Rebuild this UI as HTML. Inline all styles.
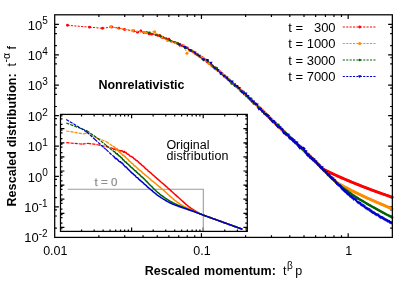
<!DOCTYPE html>
<html><head><meta charset="utf-8"><title>Rescaled distribution</title>
<style>html,body{margin:0;padding:0;background:#fff;}body{width:415px;height:291px;overflow:hidden;font-family:"Liberation Sans",sans-serif;}svg{display:block;will-change:transform;}</style></head>
<body>
<svg width="415" height="291" viewBox="0 0 415 291">
<rect x="0" y="0" width="415" height="291" fill="#ffffff"/>
<path d="M98.87 237.4v-2.2M98.87 14.8v2.2M124.71 237.4v-2.2M124.71 14.8v2.2M143.05 237.4v-2.2M143.05 14.8v2.2M157.27 237.4v-2.2M157.27 14.8v2.2M168.89 237.4v-2.2M168.89 14.8v2.2M178.71 237.4v-2.2M178.71 14.8v2.2M187.22 237.4v-2.2M187.22 14.8v2.2M194.73 237.4v-2.2M194.73 14.8v2.2M201.44 237.4v-4.2M201.44 14.8v4.2M245.61 237.4v-2.2M245.61 14.8v2.2M271.45 237.4v-2.2M271.45 14.8v2.2M289.79 237.4v-2.2M289.79 14.8v2.2M304.01 237.4v-2.2M304.01 14.8v2.2M315.63 237.4v-2.2M315.63 14.8v2.2M325.45 237.4v-2.2M325.45 14.8v2.2M333.96 237.4v-2.2M333.96 14.8v2.2M341.47 237.4v-2.2M341.47 14.8v2.2M348.18 237.4v-4.2M348.18 14.8v4.2M54.7 24.4h4.2M392.35 24.4h-4.2M54.7 54.81h4.2M392.35 54.81h-4.2M54.7 45.66h2.2M392.35 45.66h-2.2M54.7 33.55h2.2M392.35 33.55h-2.2M54.7 27.35h2.2M392.35 27.35h-2.2M54.7 85.22h4.2M392.35 85.22h-4.2M54.7 76.07h2.2M392.35 76.07h-2.2M54.7 63.96h2.2M392.35 63.96h-2.2M54.7 57.76h2.2M392.35 57.76h-2.2M54.7 115.63h4.2M392.35 115.63h-4.2M54.7 106.48h2.2M392.35 106.48h-2.2M54.7 94.37h2.2M392.35 94.37h-2.2M54.7 88.17h2.2M392.35 88.17h-2.2M54.7 146.04h4.2M392.35 146.04h-4.2M54.7 136.89h2.2M392.35 136.89h-2.2M54.7 124.78h2.2M392.35 124.78h-2.2M54.7 118.58h2.2M392.35 118.58h-2.2M54.7 176.45h4.2M392.35 176.45h-4.2M54.7 167.3h2.2M392.35 167.3h-2.2M54.7 155.19h2.2M392.35 155.19h-2.2M54.7 148.99h2.2M392.35 148.99h-2.2M54.7 206.86h4.2M392.35 206.86h-4.2M54.7 197.71h2.2M392.35 197.71h-2.2M54.7 185.6h2.2M392.35 185.6h-2.2M54.7 179.4h2.2M392.35 179.4h-2.2M54.7 228.12h2.2M392.35 228.12h-2.2M54.7 216.01h2.2M392.35 216.01h-2.2M54.7 209.81h2.2M392.35 209.81h-2.2" stroke="#000" stroke-width="1.2" fill="none"/>
<g><path d="M67.5 25.3L89.59 27.15M89.59 27.15L102.51 28.32M102.51 28.32L111.67 26.94M111.67 26.94L118.78 28.17M118.78 28.17L124.59 29.44M124.59 29.44L133.76 30.96M133.76 30.96L137.51 32.14M137.51 32.14L140.87 30.95M140.87 30.95L143.91 32.62M143.91 32.62L146.68 32.46M146.68 32.46L149.23 33.88M149.23 33.88L151.59 34.16M151.59 34.16L155.85 34.83M155.85 34.83L157.78 35.42M157.78 35.42L159.6 35.5M159.6 35.5L161.32 37M161.32 37L162.96 37.43M162.96 37.43L165.99 38.7M165.99 38.7L168.77 39.13M168.77 39.13L171.32 41.37M171.32 41.37L174.8 42.33M174.8 42.33L177.93 43.59M177.93 43.59L179.86 45.28M179.86 45.28L181.69 45.53M181.69 45.53L183.41 46.01M183.41 46.01L185.04 47.19M185.04 47.19L187.35 47.95M187.35 47.95L189.5 50.08M189.5 50.08L191.51 50.89M191.51 50.89L193.4 51.96M193.4 51.96L195.76 53.89M195.76 53.89L197.43 54.39M197.43 54.39L200.02 56.63M200.02 56.63L201.95 57.38M201.95 57.38L203.77 58.88M203.77 58.88L205.5 60M205.5 60L207.13 61.74M207.13 61.74L209.06 63.38M209.06 63.38L210.88 64.58M210.88 64.58L212.94 66.5M212.94 66.5L214.56 67.68M214.56 67.68L216.4 69.31M216.4 69.31L218.13 70.56M218.13 70.56L220.05 72.02M220.05 72.02L222.11 73.73M222.11 73.73L224.04 75.64M224.04 75.64L225.86 77.4M225.86 77.4L227.58 78.61M227.58 78.61L229.22 79.91M229.22 79.91L230.96 81.66M230.96 81.66L232.61 82.91M232.61 82.91L234.52 84.58M234.52 84.58L236.33 86.23M236.33 86.23L238.03 87.78M238.03 87.78L239.65 89.29M239.65 89.29L241.33 90.79M241.33 90.79L243.18 92.67M243.18 92.67L244.81 94.13M244.81 94.13L246.47 95.76M246.47 95.76L248.17 97.21M248.17 97.21L249.77 98.6M249.77 98.6L251.4 100.23M251.4 100.23L253.05 101.87M253.05 101.87L254.7 103.29M254.7 103.29L256.44 104.91M256.44 104.91L258.09 106.47M258.09 106.47L258.99 107.33M258.99 107.33L259.89 108.23M259.89 108.23L260.79 109.06M260.79 109.06L261.69 110.06M261.69 110.06L262.59 110.85M262.59 110.85L263.49 111.75M263.49 111.75L264.39 112.7M264.39 112.7L265.29 113.61M265.29 113.61L266.19 114.46M266.19 114.46L267.09 115.4M267.09 115.4L267.99 116.32M267.99 116.32L268.89 117.18M268.89 117.18L269.79 118.01M269.79 118.01L270.69 118.99M270.69 118.99L271.59 119.88M271.59 119.88L272.49 120.74M272.49 120.74L273.39 121.57M273.39 121.57L274.29 122.47M274.29 122.47L275.19 123.33M275.19 123.33L276.09 124.2M276.09 124.2L276.99 125.12M276.99 125.12L277.89 125.99M277.89 125.99L278.79 126.82M278.79 126.82L279.69 127.67M279.69 127.67L280.59 128.53M280.59 128.53L281.49 129.37M281.49 129.37L282.39 130.21M282.39 130.21L283.29 131.04M283.29 131.04L284.19 131.89M284.19 131.89L285.09 132.78M285.09 132.78L285.99 133.58M285.99 133.58L286.89 134.38M286.89 134.38L287.79 135.21M287.79 135.21L288.69 136.03M288.69 136.03L289.59 136.89M289.59 136.89L290.49 137.73M290.49 137.73L291.39 138.54M291.39 138.54L292.29 139.43M292.29 139.43L293.19 140.25M293.19 140.25L294.09 141.14M294.09 141.14L294.99 141.97M294.99 141.97L295.89 142.85M295.89 142.85L296.79 143.67M296.79 143.67L297.69 144.53M297.69 144.53L298.59 145.4M298.59 145.4L299.49 146.27M299.49 146.27L300.39 147.12M300.39 147.12L301.29 147.95M301.29 147.95L302.19 148.84M302.19 148.84L303.09 149.7M303.09 149.7L303.99 150.56M303.99 150.56L304.89 151.42M304.89 151.42L305.79 152.32M305.79 152.32L306.69 153.16M306.69 153.16L307.59 154.02M307.59 154.02L308.49 154.92M308.49 154.92L309.39 155.78M309.39 155.78L310.29 156.66M310.29 156.66L311.19 157.54M311.19 157.54L312.09 158.42M312.09 158.42L312.99 159.3M312.99 159.3L313.89 160.19M313.89 160.19L314.79 161.07M314.79 161.07L315.69 161.95M315.69 161.95L316.59 162.84M316.59 162.84L317.49 163.74M317.49 163.74L318.39 164.65M318.39 164.65L319.29 165.54M319.29 165.54L320.19 166.45M320.19 166.45L321.09 167.38M321.09 167.38L321.99 168.28M321.99 168.28L322.89 168.9M322.89 168.9L323.79 169.41M323.79 169.41L324.69 169.89M324.69 169.89L325.59 170.38M325.59 170.38L326.49 170.84M326.49 170.84L327.39 171.3M327.39 171.3L328.29 171.75M328.29 171.75L329.19 172.2M329.19 172.2L330.09 172.64M330.09 172.64L330.99 173.07M330.99 173.07L331.89 173.49M331.89 173.49L332.79 173.9M332.79 173.9L333.69 174.31M333.69 174.31L334.59 174.71M334.59 174.71L335.49 175.12M335.49 175.12L336.39 175.53M336.39 175.53L337.29 175.94M337.29 175.94L338.19 176.34M338.19 176.34L339.09 176.73M339.09 176.73L339.99 177.14M339.99 177.14L340.89 177.54M340.89 177.54L341.79 177.94M341.79 177.94L342.69 178.32M342.69 178.32L343.59 178.72M343.59 178.72L344.49 179.12M344.49 179.12L345.39 179.49M345.39 179.49L346.29 179.89M346.29 179.89L347.19 180.27M347.19 180.27L348.09 180.65M348.09 180.65L348.99 181.03M348.99 181.03L349.89 181.4M349.89 181.4L350.79 181.78M350.79 181.78L351.69 182.15M351.69 182.15L352.59 182.52M352.59 182.52L353.49 182.89M353.49 182.89L354.39 183.26M354.39 183.26L355.29 183.62M355.29 183.62L356.19 183.98M356.19 183.98L357.09 184.35M357.09 184.35L357.99 184.7M357.99 184.7L358.89 185.06M358.89 185.06L359.79 185.42M359.79 185.42L360.69 185.77M360.69 185.77L361.59 186.13M361.59 186.13L362.49 186.48M362.49 186.48L363.39 186.83M363.39 186.83L364.29 187.18M364.29 187.18L365.19 187.53M365.19 187.53L366.09 187.87M366.09 187.87L366.99 188.22M366.99 188.22L367.89 188.57M367.89 188.57L368.79 188.91M368.79 188.91L369.69 189.25M369.69 189.25L370.59 189.59M370.59 189.59L371.49 189.93M371.49 189.93L372.39 190.26M372.39 190.26L373.29 190.59M373.29 190.59L374.19 190.93M374.19 190.93L375.09 191.25M375.09 191.25L375.99 191.59M375.99 191.59L376.89 191.91M376.89 191.91L377.79 192.24M377.79 192.24L378.69 192.56M378.69 192.56L379.59 192.89M379.59 192.89L380.49 193.21M380.49 193.21L381.39 193.53M381.39 193.53L382.29 193.85M382.29 193.85L383.19 194.17M383.19 194.17L384.09 194.48M384.09 194.48L384.99 194.8M384.99 194.8L385.89 195.11M385.89 195.11L386.79 195.42M386.79 195.42L387.69 195.73M387.69 195.73L388.59 196.04M388.59 196.04L389.49 196.35M389.49 196.35L390.39 196.66M390.39 196.66L391.29 196.96M391.29 196.96L392.19 197.26" stroke="#ff0000" stroke-width="1" stroke-dasharray="2.1 1.3" fill="none"/><circle cx="67.5" cy="25.3" r="1.45" fill="#ff0000"/><circle cx="89.59" cy="27.15" r="1.45" fill="#ff0000"/><circle cx="102.51" cy="28.32" r="1.45" fill="#ff0000"/><circle cx="111.67" cy="26.94" r="1.45" fill="#ff0000"/><circle cx="118.78" cy="28.17" r="1.45" fill="#ff0000"/><circle cx="124.59" cy="29.44" r="1.45" fill="#ff0000"/><circle cx="133.76" cy="30.96" r="1.45" fill="#ff0000"/><circle cx="137.51" cy="32.14" r="1.45" fill="#ff0000"/><circle cx="140.87" cy="30.95" r="1.45" fill="#ff0000"/><circle cx="143.91" cy="32.62" r="1.45" fill="#ff0000"/><circle cx="146.68" cy="32.46" r="1.45" fill="#ff0000"/><circle cx="149.23" cy="33.88" r="1.45" fill="#ff0000"/><circle cx="151.59" cy="34.16" r="1.45" fill="#ff0000"/><circle cx="155.85" cy="34.83" r="1.45" fill="#ff0000"/><circle cx="157.78" cy="35.42" r="1.45" fill="#ff0000"/><circle cx="159.6" cy="35.5" r="1.45" fill="#ff0000"/><circle cx="161.32" cy="37" r="1.45" fill="#ff0000"/><circle cx="162.96" cy="37.43" r="1.45" fill="#ff0000"/><circle cx="165.99" cy="38.7" r="1.45" fill="#ff0000"/><circle cx="168.77" cy="39.13" r="1.45" fill="#ff0000"/><circle cx="171.32" cy="41.37" r="1.45" fill="#ff0000"/><circle cx="174.8" cy="42.33" r="1.45" fill="#ff0000"/><circle cx="177.93" cy="43.59" r="1.45" fill="#ff0000"/><circle cx="179.86" cy="45.28" r="1.45" fill="#ff0000"/><circle cx="181.69" cy="45.53" r="1.45" fill="#ff0000"/><circle cx="183.41" cy="46.01" r="1.45" fill="#ff0000"/><circle cx="185.04" cy="47.19" r="1.45" fill="#ff0000"/><circle cx="187.35" cy="47.95" r="1.45" fill="#ff0000"/><circle cx="189.5" cy="50.08" r="1.45" fill="#ff0000"/><circle cx="191.51" cy="50.89" r="1.45" fill="#ff0000"/><circle cx="193.4" cy="51.96" r="1.45" fill="#ff0000"/><circle cx="195.76" cy="53.89" r="1.45" fill="#ff0000"/><circle cx="197.43" cy="54.39" r="1.45" fill="#ff0000"/><circle cx="200.02" cy="56.63" r="1.45" fill="#ff0000"/><circle cx="201.95" cy="57.38" r="1.45" fill="#ff0000"/><circle cx="203.77" cy="58.88" r="1.45" fill="#ff0000"/><circle cx="205.5" cy="60" r="1.45" fill="#ff0000"/><circle cx="207.13" cy="61.74" r="1.45" fill="#ff0000"/><circle cx="209.06" cy="63.38" r="1.45" fill="#ff0000"/><circle cx="210.88" cy="64.58" r="1.45" fill="#ff0000"/><circle cx="212.94" cy="66.5" r="1.45" fill="#ff0000"/><circle cx="214.56" cy="67.68" r="1.45" fill="#ff0000"/><circle cx="216.4" cy="69.31" r="1.45" fill="#ff0000"/><circle cx="218.13" cy="70.56" r="1.45" fill="#ff0000"/><circle cx="220.05" cy="72.02" r="1.45" fill="#ff0000"/><circle cx="222.11" cy="73.73" r="1.45" fill="#ff0000"/><circle cx="224.04" cy="75.64" r="1.45" fill="#ff0000"/><circle cx="225.86" cy="77.4" r="1.45" fill="#ff0000"/><circle cx="227.58" cy="78.61" r="1.45" fill="#ff0000"/><circle cx="229.22" cy="79.91" r="1.45" fill="#ff0000"/><circle cx="230.96" cy="81.66" r="1.45" fill="#ff0000"/><circle cx="232.61" cy="82.91" r="1.45" fill="#ff0000"/><circle cx="234.52" cy="84.58" r="1.45" fill="#ff0000"/><circle cx="236.33" cy="86.23" r="1.45" fill="#ff0000"/><circle cx="238.03" cy="87.78" r="1.45" fill="#ff0000"/><circle cx="239.65" cy="89.29" r="1.45" fill="#ff0000"/><circle cx="241.33" cy="90.79" r="1.45" fill="#ff0000"/><circle cx="243.18" cy="92.67" r="1.45" fill="#ff0000"/><circle cx="244.81" cy="94.13" r="1.45" fill="#ff0000"/><circle cx="246.47" cy="95.76" r="1.45" fill="#ff0000"/><circle cx="248.17" cy="97.21" r="1.45" fill="#ff0000"/><circle cx="249.77" cy="98.6" r="1.45" fill="#ff0000"/><circle cx="251.4" cy="100.23" r="1.45" fill="#ff0000"/><circle cx="253.05" cy="101.87" r="1.45" fill="#ff0000"/><circle cx="254.7" cy="103.29" r="1.45" fill="#ff0000"/><circle cx="256.44" cy="104.91" r="1.45" fill="#ff0000"/><circle cx="258.09" cy="106.47" r="1.45" fill="#ff0000"/><circle cx="258.99" cy="107.33" r="1.45" fill="#ff0000"/><circle cx="259.89" cy="108.23" r="1.45" fill="#ff0000"/><circle cx="260.79" cy="109.06" r="1.45" fill="#ff0000"/><circle cx="261.69" cy="110.06" r="1.45" fill="#ff0000"/><circle cx="262.59" cy="110.85" r="1.45" fill="#ff0000"/><circle cx="263.49" cy="111.75" r="1.45" fill="#ff0000"/><circle cx="264.39" cy="112.7" r="1.45" fill="#ff0000"/><circle cx="265.29" cy="113.61" r="1.45" fill="#ff0000"/><circle cx="266.19" cy="114.46" r="1.45" fill="#ff0000"/><circle cx="267.09" cy="115.4" r="1.45" fill="#ff0000"/><circle cx="267.99" cy="116.32" r="1.45" fill="#ff0000"/><circle cx="268.89" cy="117.18" r="1.45" fill="#ff0000"/><circle cx="269.79" cy="118.01" r="1.45" fill="#ff0000"/><circle cx="270.69" cy="118.99" r="1.45" fill="#ff0000"/><circle cx="271.59" cy="119.88" r="1.45" fill="#ff0000"/><circle cx="272.49" cy="120.74" r="1.45" fill="#ff0000"/><circle cx="273.39" cy="121.57" r="1.45" fill="#ff0000"/><circle cx="274.29" cy="122.47" r="1.45" fill="#ff0000"/><circle cx="275.19" cy="123.33" r="1.45" fill="#ff0000"/><circle cx="276.09" cy="124.2" r="1.45" fill="#ff0000"/><circle cx="276.99" cy="125.12" r="1.45" fill="#ff0000"/><circle cx="277.89" cy="125.99" r="1.45" fill="#ff0000"/><circle cx="278.79" cy="126.82" r="1.45" fill="#ff0000"/><circle cx="279.69" cy="127.67" r="1.45" fill="#ff0000"/><circle cx="280.59" cy="128.53" r="1.45" fill="#ff0000"/><circle cx="281.49" cy="129.37" r="1.45" fill="#ff0000"/><circle cx="282.39" cy="130.21" r="1.45" fill="#ff0000"/><circle cx="283.29" cy="131.04" r="1.45" fill="#ff0000"/><circle cx="284.19" cy="131.89" r="1.45" fill="#ff0000"/><circle cx="285.09" cy="132.78" r="1.45" fill="#ff0000"/><circle cx="285.99" cy="133.58" r="1.45" fill="#ff0000"/><circle cx="286.89" cy="134.38" r="1.45" fill="#ff0000"/><circle cx="287.79" cy="135.21" r="1.45" fill="#ff0000"/><circle cx="288.69" cy="136.03" r="1.45" fill="#ff0000"/><circle cx="289.59" cy="136.89" r="1.45" fill="#ff0000"/><circle cx="290.49" cy="137.73" r="1.45" fill="#ff0000"/><circle cx="291.39" cy="138.54" r="1.45" fill="#ff0000"/><circle cx="292.29" cy="139.43" r="1.45" fill="#ff0000"/><circle cx="293.19" cy="140.25" r="1.45" fill="#ff0000"/><circle cx="294.09" cy="141.14" r="1.45" fill="#ff0000"/><circle cx="294.99" cy="141.97" r="1.45" fill="#ff0000"/><circle cx="295.89" cy="142.85" r="1.45" fill="#ff0000"/><circle cx="296.79" cy="143.67" r="1.45" fill="#ff0000"/><circle cx="297.69" cy="144.53" r="1.45" fill="#ff0000"/><circle cx="298.59" cy="145.4" r="1.45" fill="#ff0000"/><circle cx="299.49" cy="146.27" r="1.45" fill="#ff0000"/><circle cx="300.39" cy="147.12" r="1.45" fill="#ff0000"/><circle cx="301.29" cy="147.95" r="1.45" fill="#ff0000"/><circle cx="302.19" cy="148.84" r="1.45" fill="#ff0000"/><circle cx="303.09" cy="149.7" r="1.45" fill="#ff0000"/><circle cx="303.99" cy="150.56" r="1.45" fill="#ff0000"/><circle cx="304.89" cy="151.42" r="1.45" fill="#ff0000"/><circle cx="305.79" cy="152.32" r="1.45" fill="#ff0000"/><circle cx="306.69" cy="153.16" r="1.45" fill="#ff0000"/><circle cx="307.59" cy="154.02" r="1.45" fill="#ff0000"/><circle cx="308.49" cy="154.92" r="1.45" fill="#ff0000"/><circle cx="309.39" cy="155.78" r="1.45" fill="#ff0000"/><circle cx="310.29" cy="156.66" r="1.45" fill="#ff0000"/><circle cx="311.19" cy="157.54" r="1.45" fill="#ff0000"/><circle cx="312.09" cy="158.42" r="1.45" fill="#ff0000"/><circle cx="312.99" cy="159.3" r="1.45" fill="#ff0000"/><circle cx="313.89" cy="160.19" r="1.45" fill="#ff0000"/><circle cx="314.79" cy="161.07" r="1.45" fill="#ff0000"/><circle cx="315.69" cy="161.95" r="1.45" fill="#ff0000"/><circle cx="316.59" cy="162.84" r="1.45" fill="#ff0000"/><circle cx="317.49" cy="163.74" r="1.45" fill="#ff0000"/><circle cx="318.39" cy="164.65" r="1.45" fill="#ff0000"/><circle cx="319.29" cy="165.54" r="1.45" fill="#ff0000"/><circle cx="320.19" cy="166.45" r="1.45" fill="#ff0000"/><circle cx="321.09" cy="167.38" r="1.45" fill="#ff0000"/><circle cx="321.99" cy="168.28" r="1.45" fill="#ff0000"/><circle cx="322.89" cy="168.9" r="1.45" fill="#ff0000"/><circle cx="323.79" cy="169.41" r="1.45" fill="#ff0000"/><circle cx="324.69" cy="169.89" r="1.45" fill="#ff0000"/><circle cx="325.59" cy="170.38" r="1.45" fill="#ff0000"/><circle cx="326.49" cy="170.84" r="1.45" fill="#ff0000"/><circle cx="327.39" cy="171.3" r="1.45" fill="#ff0000"/><circle cx="328.29" cy="171.75" r="1.45" fill="#ff0000"/><circle cx="329.19" cy="172.2" r="1.45" fill="#ff0000"/><circle cx="330.09" cy="172.64" r="1.45" fill="#ff0000"/><circle cx="330.99" cy="173.07" r="1.45" fill="#ff0000"/><circle cx="331.89" cy="173.49" r="1.45" fill="#ff0000"/><circle cx="332.79" cy="173.9" r="1.45" fill="#ff0000"/><circle cx="333.69" cy="174.31" r="1.45" fill="#ff0000"/><circle cx="334.59" cy="174.71" r="1.45" fill="#ff0000"/><circle cx="335.49" cy="175.12" r="1.45" fill="#ff0000"/><circle cx="336.39" cy="175.53" r="1.45" fill="#ff0000"/><circle cx="337.29" cy="175.94" r="1.45" fill="#ff0000"/><circle cx="338.19" cy="176.34" r="1.45" fill="#ff0000"/><circle cx="339.09" cy="176.73" r="1.45" fill="#ff0000"/><circle cx="339.99" cy="177.14" r="1.45" fill="#ff0000"/><circle cx="340.89" cy="177.54" r="1.45" fill="#ff0000"/><circle cx="341.79" cy="177.94" r="1.45" fill="#ff0000"/><circle cx="342.69" cy="178.32" r="1.45" fill="#ff0000"/><circle cx="343.59" cy="178.72" r="1.45" fill="#ff0000"/><circle cx="344.49" cy="179.12" r="1.45" fill="#ff0000"/><circle cx="345.39" cy="179.49" r="1.45" fill="#ff0000"/><circle cx="346.29" cy="179.89" r="1.45" fill="#ff0000"/><circle cx="347.19" cy="180.27" r="1.45" fill="#ff0000"/><circle cx="348.09" cy="180.65" r="1.45" fill="#ff0000"/><circle cx="348.99" cy="181.03" r="1.45" fill="#ff0000"/><circle cx="349.89" cy="181.4" r="1.45" fill="#ff0000"/><circle cx="350.79" cy="181.78" r="1.45" fill="#ff0000"/><circle cx="351.69" cy="182.15" r="1.45" fill="#ff0000"/><circle cx="352.59" cy="182.52" r="1.45" fill="#ff0000"/><circle cx="353.49" cy="182.89" r="1.45" fill="#ff0000"/><circle cx="354.39" cy="183.26" r="1.45" fill="#ff0000"/><circle cx="355.29" cy="183.62" r="1.45" fill="#ff0000"/><circle cx="356.19" cy="183.98" r="1.45" fill="#ff0000"/><circle cx="357.09" cy="184.35" r="1.45" fill="#ff0000"/><circle cx="357.99" cy="184.7" r="1.45" fill="#ff0000"/><circle cx="358.89" cy="185.06" r="1.45" fill="#ff0000"/><circle cx="359.79" cy="185.42" r="1.45" fill="#ff0000"/><circle cx="360.69" cy="185.77" r="1.45" fill="#ff0000"/><circle cx="361.59" cy="186.13" r="1.45" fill="#ff0000"/><circle cx="362.49" cy="186.48" r="1.45" fill="#ff0000"/><circle cx="363.39" cy="186.83" r="1.45" fill="#ff0000"/><circle cx="364.29" cy="187.18" r="1.45" fill="#ff0000"/><circle cx="365.19" cy="187.53" r="1.45" fill="#ff0000"/><circle cx="366.09" cy="187.87" r="1.45" fill="#ff0000"/><circle cx="366.99" cy="188.22" r="1.45" fill="#ff0000"/><circle cx="367.89" cy="188.57" r="1.45" fill="#ff0000"/><circle cx="368.79" cy="188.91" r="1.45" fill="#ff0000"/><circle cx="369.69" cy="189.25" r="1.45" fill="#ff0000"/><circle cx="370.59" cy="189.59" r="1.45" fill="#ff0000"/><circle cx="371.49" cy="189.93" r="1.45" fill="#ff0000"/><circle cx="372.39" cy="190.26" r="1.45" fill="#ff0000"/><circle cx="373.29" cy="190.59" r="1.45" fill="#ff0000"/><circle cx="374.19" cy="190.93" r="1.45" fill="#ff0000"/><circle cx="375.09" cy="191.25" r="1.45" fill="#ff0000"/><circle cx="375.99" cy="191.59" r="1.45" fill="#ff0000"/><circle cx="376.89" cy="191.91" r="1.45" fill="#ff0000"/><circle cx="377.79" cy="192.24" r="1.45" fill="#ff0000"/><circle cx="378.69" cy="192.56" r="1.45" fill="#ff0000"/><circle cx="379.59" cy="192.89" r="1.45" fill="#ff0000"/><circle cx="380.49" cy="193.21" r="1.45" fill="#ff0000"/><circle cx="381.39" cy="193.53" r="1.45" fill="#ff0000"/><circle cx="382.29" cy="193.85" r="1.45" fill="#ff0000"/><circle cx="383.19" cy="194.17" r="1.45" fill="#ff0000"/><circle cx="384.09" cy="194.48" r="1.45" fill="#ff0000"/><circle cx="384.99" cy="194.8" r="1.45" fill="#ff0000"/><circle cx="385.89" cy="195.11" r="1.45" fill="#ff0000"/><circle cx="386.79" cy="195.42" r="1.45" fill="#ff0000"/><circle cx="387.69" cy="195.73" r="1.45" fill="#ff0000"/><circle cx="388.59" cy="196.04" r="1.45" fill="#ff0000"/><circle cx="389.49" cy="196.35" r="1.45" fill="#ff0000"/><circle cx="390.39" cy="196.66" r="1.45" fill="#ff0000"/><circle cx="391.29" cy="196.96" r="1.45" fill="#ff0000"/><circle cx="392.19" cy="197.26" r="1.45" fill="#ff0000"/><path d="M110.5 26.8L132.59 30.61M132.59 30.61L145.51 32.63M145.51 32.63L154.67 31.64M154.67 31.64L161.78 37.08M161.78 37.08L167.59 40.54M167.59 40.54L176.76 43.02M176.76 43.02L180.51 44.82M180.51 44.82L183.87 46.06M183.87 46.06L186.91 53.33M186.91 53.33L189.68 50.29M189.68 50.29L192.23 51.04M192.23 51.04L194.59 52.86M194.59 52.86L198.85 56.06M198.85 56.06L200.78 56.96M200.78 56.96L202.6 57.99M202.6 57.99L204.32 59.81M204.32 59.81L205.96 60.61M205.96 60.61L208.99 63.17M208.99 63.17L211.77 65.83M211.77 65.83L214.32 67.93M214.32 67.93L217.8 70.27M217.8 70.27L220.93 72.82M220.93 72.82L222.86 74.69M222.86 74.69L224.69 76.09M224.69 76.09L226.41 77.03M226.41 77.03L228.04 79.34M228.04 79.34L230.35 80.94M230.35 80.94L232.5 82.98M232.5 82.98L234.51 84.27M234.51 84.27L236.4 86.59M236.4 86.59L238.76 88.35M238.76 88.35L240.43 90.03M240.43 90.03L243.02 92.19M243.02 92.19L244.95 94.24M244.95 94.24L246.77 95.91M246.77 95.91L248.5 97.51M248.5 97.51L250.13 99.13M250.13 99.13L252.06 100.86M252.06 100.86L253.88 102.71M253.88 102.71L255.94 104.41M255.94 104.41L257.56 105.87M257.56 105.87L259.4 107.77M259.4 107.77L261.13 109.54M261.13 109.54L263.05 111.48M263.05 111.48L265.11 113.47M265.11 113.47L267.04 115.11M267.04 115.11L268.86 117.2M268.86 117.2L270.58 119.02M270.58 119.02L272.22 120.46M272.22 120.46L273.96 122.1M273.96 122.1L275.61 123.78M275.61 123.78L277.52 125.54M277.52 125.54L279.33 127.37M279.33 127.37L281.03 128.93M281.03 128.93L282.65 130.57M282.65 130.57L284.33 132.06M284.33 132.06L286.18 133.67M286.18 133.67L287.81 135.28M287.81 135.28L289.47 136.84M289.47 136.84L291.17 138.32M291.17 138.32L292.77 139.84M292.77 139.84L294.4 141.26M294.4 141.26L296.05 143.02M296.05 143.02L297.7 144.51M297.7 144.51L299.44 146.09M299.44 146.09L301.09 147.69M301.09 147.69L301.99 148.63M301.99 148.63L302.89 149.54M302.89 149.54L303.79 150.37M303.79 150.37L304.69 151.26M304.69 151.26L305.59 152.05M305.59 152.05L306.49 152.91M306.49 152.91L307.39 153.88M307.39 153.88L308.29 154.73M308.29 154.73L309.19 155.59M309.19 155.59L310.09 156.52M310.09 156.52L310.99 157.3M310.99 157.3L311.89 158.2M311.89 158.2L312.79 159.14M312.79 159.14L313.69 160.05M313.69 160.05L314.59 160.87M314.59 160.87L315.49 161.82M315.49 161.82L316.39 162.63M316.39 162.63L317.29 163.56M317.29 163.56L318.19 164.44M318.19 164.44L319.09 165.3M319.09 165.3L319.99 166.27M319.99 166.27L320.89 167.2M320.89 167.2L321.79 168.08M321.79 168.08L322.69 168.99M322.69 168.99L323.59 169.94M323.59 169.94L324.49 170.76M324.49 170.76L325.39 171.66M325.39 171.66L326.29 172.58M326.29 172.58L327.19 173.46M327.19 173.46L328.09 174.42M328.09 174.42L328.99 175.29M328.99 175.29L329.89 176.15M329.89 176.15L330.79 177.06M330.79 177.06L331.69 178.03M331.69 178.03L332.59 178.86M332.59 178.86L333.49 179.76M333.49 179.76L334.39 180.69M334.39 180.69L335.29 181.41M335.29 181.41L336.19 182.01M336.19 182.01L337.09 182.58M337.09 182.58L337.99 183.16M337.99 183.16L338.89 183.75M338.89 183.75L339.79 184.29M339.79 184.29L340.69 184.8M340.69 184.8L341.59 185.35M341.59 185.35L342.49 185.84M342.49 185.84L343.39 186.3M343.39 186.3L344.29 186.77M344.29 186.77L345.19 187.23M345.19 187.23L346.09 187.68M346.09 187.68L346.99 188.12M346.99 188.12L347.89 188.61M347.89 188.61L348.79 189.04M348.79 189.04L349.69 189.52M349.69 189.52L350.59 189.96M350.59 189.96L351.49 190.43M351.49 190.43L352.39 190.88M352.39 190.88L353.29 191.35M353.29 191.35L354.19 191.77M354.19 191.77L355.09 192.21M355.09 192.21L355.99 192.66M355.99 192.66L356.89 193.09M356.89 193.09L357.79 193.54M357.79 193.54L358.69 193.98M358.69 193.98L359.59 194.41M359.59 194.41L360.49 194.84M360.49 194.84L361.39 195.25M361.39 195.25L362.29 195.7M362.29 195.7L363.19 196.11M363.19 196.11L364.09 196.51M364.09 196.51L364.99 196.91M364.99 196.91L365.89 197.34M365.89 197.34L366.79 197.75M366.79 197.75L367.69 198.14M367.69 198.14L368.59 198.57M368.59 198.57L369.49 198.97M369.49 198.97L370.39 199.37M370.39 199.37L371.29 199.78M371.29 199.78L372.19 200.18M372.19 200.18L373.09 200.57M373.09 200.57L373.99 200.97M373.99 200.97L374.89 201.36M374.89 201.36L375.79 201.75M375.79 201.75L376.69 202.14M376.69 202.14L377.59 202.54M377.59 202.54L378.49 202.92M378.49 202.92L379.39 203.3M379.39 203.3L380.29 203.7M380.29 203.7L381.19 204.08M381.19 204.08L382.09 204.47M382.09 204.47L382.99 204.86M382.99 204.86L383.89 205.24M383.89 205.24L384.79 205.62M384.79 205.62L385.69 206M385.69 206L386.59 206.4M386.59 206.4L387.49 206.77M387.49 206.77L388.39 207.16M388.39 207.16L389.29 207.54M389.29 207.54L390.19 207.91M390.19 207.91L391.09 208.29M391.09 208.29L391.99 208.67" stroke="#ff8c00" stroke-width="1" stroke-dasharray="2.1 1.3" fill="none"/><circle cx="110.5" cy="26.8" r="1.5" fill="#ff8c00"/><circle cx="132.59" cy="30.61" r="1.5" fill="#ff8c00"/><circle cx="145.51" cy="32.63" r="1.5" fill="#ff8c00"/><circle cx="154.67" cy="31.64" r="1.5" fill="#ff8c00"/><circle cx="161.78" cy="37.08" r="1.5" fill="#ff8c00"/><circle cx="167.59" cy="40.54" r="1.5" fill="#ff8c00"/><circle cx="176.76" cy="43.02" r="1.5" fill="#ff8c00"/><circle cx="180.51" cy="44.82" r="1.5" fill="#ff8c00"/><circle cx="183.87" cy="46.06" r="1.5" fill="#ff8c00"/><circle cx="186.91" cy="53.33" r="1.5" fill="#ff8c00"/><circle cx="189.68" cy="50.29" r="1.5" fill="#ff8c00"/><circle cx="192.23" cy="51.04" r="1.5" fill="#ff8c00"/><circle cx="194.59" cy="52.86" r="1.5" fill="#ff8c00"/><circle cx="198.85" cy="56.06" r="1.5" fill="#ff8c00"/><circle cx="200.78" cy="56.96" r="1.5" fill="#ff8c00"/><circle cx="202.6" cy="57.99" r="1.5" fill="#ff8c00"/><circle cx="204.32" cy="59.81" r="1.5" fill="#ff8c00"/><circle cx="205.96" cy="60.61" r="1.5" fill="#ff8c00"/><circle cx="208.99" cy="63.17" r="1.5" fill="#ff8c00"/><circle cx="211.77" cy="65.83" r="1.5" fill="#ff8c00"/><circle cx="214.32" cy="67.93" r="1.5" fill="#ff8c00"/><circle cx="217.8" cy="70.27" r="1.5" fill="#ff8c00"/><circle cx="220.93" cy="72.82" r="1.5" fill="#ff8c00"/><circle cx="222.86" cy="74.69" r="1.5" fill="#ff8c00"/><circle cx="224.69" cy="76.09" r="1.5" fill="#ff8c00"/><circle cx="226.41" cy="77.03" r="1.5" fill="#ff8c00"/><circle cx="228.04" cy="79.34" r="1.5" fill="#ff8c00"/><circle cx="230.35" cy="80.94" r="1.5" fill="#ff8c00"/><circle cx="232.5" cy="82.98" r="1.5" fill="#ff8c00"/><circle cx="234.51" cy="84.27" r="1.5" fill="#ff8c00"/><circle cx="236.4" cy="86.59" r="1.5" fill="#ff8c00"/><circle cx="238.76" cy="88.35" r="1.5" fill="#ff8c00"/><circle cx="240.43" cy="90.03" r="1.5" fill="#ff8c00"/><circle cx="243.02" cy="92.19" r="1.5" fill="#ff8c00"/><circle cx="244.95" cy="94.24" r="1.5" fill="#ff8c00"/><circle cx="246.77" cy="95.91" r="1.5" fill="#ff8c00"/><circle cx="248.5" cy="97.51" r="1.5" fill="#ff8c00"/><circle cx="250.13" cy="99.13" r="1.5" fill="#ff8c00"/><circle cx="252.06" cy="100.86" r="1.5" fill="#ff8c00"/><circle cx="253.88" cy="102.71" r="1.5" fill="#ff8c00"/><circle cx="255.94" cy="104.41" r="1.5" fill="#ff8c00"/><circle cx="257.56" cy="105.87" r="1.5" fill="#ff8c00"/><circle cx="259.4" cy="107.77" r="1.5" fill="#ff8c00"/><circle cx="261.13" cy="109.54" r="1.5" fill="#ff8c00"/><circle cx="263.05" cy="111.48" r="1.5" fill="#ff8c00"/><circle cx="265.11" cy="113.47" r="1.5" fill="#ff8c00"/><circle cx="267.04" cy="115.11" r="1.5" fill="#ff8c00"/><circle cx="268.86" cy="117.2" r="1.5" fill="#ff8c00"/><circle cx="270.58" cy="119.02" r="1.5" fill="#ff8c00"/><circle cx="272.22" cy="120.46" r="1.5" fill="#ff8c00"/><circle cx="273.96" cy="122.1" r="1.5" fill="#ff8c00"/><circle cx="275.61" cy="123.78" r="1.5" fill="#ff8c00"/><circle cx="277.52" cy="125.54" r="1.5" fill="#ff8c00"/><circle cx="279.33" cy="127.37" r="1.5" fill="#ff8c00"/><circle cx="281.03" cy="128.93" r="1.5" fill="#ff8c00"/><circle cx="282.65" cy="130.57" r="1.5" fill="#ff8c00"/><circle cx="284.33" cy="132.06" r="1.5" fill="#ff8c00"/><circle cx="286.18" cy="133.67" r="1.5" fill="#ff8c00"/><circle cx="287.81" cy="135.28" r="1.5" fill="#ff8c00"/><circle cx="289.47" cy="136.84" r="1.5" fill="#ff8c00"/><circle cx="291.17" cy="138.32" r="1.5" fill="#ff8c00"/><circle cx="292.77" cy="139.84" r="1.5" fill="#ff8c00"/><circle cx="294.4" cy="141.26" r="1.5" fill="#ff8c00"/><circle cx="296.05" cy="143.02" r="1.5" fill="#ff8c00"/><circle cx="297.7" cy="144.51" r="1.5" fill="#ff8c00"/><circle cx="299.44" cy="146.09" r="1.5" fill="#ff8c00"/><circle cx="301.09" cy="147.69" r="1.5" fill="#ff8c00"/><circle cx="301.99" cy="148.63" r="1.5" fill="#ff8c00"/><circle cx="302.89" cy="149.54" r="1.5" fill="#ff8c00"/><circle cx="303.79" cy="150.37" r="1.5" fill="#ff8c00"/><circle cx="304.69" cy="151.26" r="1.5" fill="#ff8c00"/><circle cx="305.59" cy="152.05" r="1.5" fill="#ff8c00"/><circle cx="306.49" cy="152.91" r="1.5" fill="#ff8c00"/><circle cx="307.39" cy="153.88" r="1.5" fill="#ff8c00"/><circle cx="308.29" cy="154.73" r="1.5" fill="#ff8c00"/><circle cx="309.19" cy="155.59" r="1.5" fill="#ff8c00"/><circle cx="310.09" cy="156.52" r="1.5" fill="#ff8c00"/><circle cx="310.99" cy="157.3" r="1.5" fill="#ff8c00"/><circle cx="311.89" cy="158.2" r="1.5" fill="#ff8c00"/><circle cx="312.79" cy="159.14" r="1.5" fill="#ff8c00"/><circle cx="313.69" cy="160.05" r="1.5" fill="#ff8c00"/><circle cx="314.59" cy="160.87" r="1.5" fill="#ff8c00"/><circle cx="315.49" cy="161.82" r="1.5" fill="#ff8c00"/><circle cx="316.39" cy="162.63" r="1.5" fill="#ff8c00"/><circle cx="317.29" cy="163.56" r="1.5" fill="#ff8c00"/><circle cx="318.19" cy="164.44" r="1.5" fill="#ff8c00"/><circle cx="319.09" cy="165.3" r="1.5" fill="#ff8c00"/><circle cx="319.99" cy="166.27" r="1.5" fill="#ff8c00"/><circle cx="320.89" cy="167.2" r="1.5" fill="#ff8c00"/><circle cx="321.79" cy="168.08" r="1.5" fill="#ff8c00"/><circle cx="322.69" cy="168.99" r="1.5" fill="#ff8c00"/><circle cx="323.59" cy="169.94" r="1.5" fill="#ff8c00"/><circle cx="324.49" cy="170.76" r="1.5" fill="#ff8c00"/><circle cx="325.39" cy="171.66" r="1.5" fill="#ff8c00"/><circle cx="326.29" cy="172.58" r="1.5" fill="#ff8c00"/><circle cx="327.19" cy="173.46" r="1.5" fill="#ff8c00"/><circle cx="328.09" cy="174.42" r="1.5" fill="#ff8c00"/><circle cx="328.99" cy="175.29" r="1.5" fill="#ff8c00"/><circle cx="329.89" cy="176.15" r="1.5" fill="#ff8c00"/><circle cx="330.79" cy="177.06" r="1.5" fill="#ff8c00"/><circle cx="331.69" cy="178.03" r="1.5" fill="#ff8c00"/><circle cx="332.59" cy="178.86" r="1.5" fill="#ff8c00"/><circle cx="333.49" cy="179.76" r="1.5" fill="#ff8c00"/><circle cx="334.39" cy="180.69" r="1.5" fill="#ff8c00"/><circle cx="335.29" cy="181.41" r="1.5" fill="#ff8c00"/><circle cx="336.19" cy="182.01" r="1.5" fill="#ff8c00"/><circle cx="337.09" cy="182.58" r="1.5" fill="#ff8c00"/><circle cx="337.99" cy="183.16" r="1.5" fill="#ff8c00"/><circle cx="338.89" cy="183.75" r="1.5" fill="#ff8c00"/><circle cx="339.79" cy="184.29" r="1.5" fill="#ff8c00"/><circle cx="340.69" cy="184.8" r="1.5" fill="#ff8c00"/><circle cx="341.59" cy="185.35" r="1.5" fill="#ff8c00"/><circle cx="342.49" cy="185.84" r="1.5" fill="#ff8c00"/><circle cx="343.39" cy="186.3" r="1.5" fill="#ff8c00"/><circle cx="344.29" cy="186.77" r="1.5" fill="#ff8c00"/><circle cx="345.19" cy="187.23" r="1.5" fill="#ff8c00"/><circle cx="346.09" cy="187.68" r="1.5" fill="#ff8c00"/><circle cx="346.99" cy="188.12" r="1.5" fill="#ff8c00"/><circle cx="347.89" cy="188.61" r="1.5" fill="#ff8c00"/><circle cx="348.79" cy="189.04" r="1.5" fill="#ff8c00"/><circle cx="349.69" cy="189.52" r="1.5" fill="#ff8c00"/><circle cx="350.59" cy="189.96" r="1.5" fill="#ff8c00"/><circle cx="351.49" cy="190.43" r="1.5" fill="#ff8c00"/><circle cx="352.39" cy="190.88" r="1.5" fill="#ff8c00"/><circle cx="353.29" cy="191.35" r="1.5" fill="#ff8c00"/><circle cx="354.19" cy="191.77" r="1.5" fill="#ff8c00"/><circle cx="355.09" cy="192.21" r="1.5" fill="#ff8c00"/><circle cx="355.99" cy="192.66" r="1.5" fill="#ff8c00"/><circle cx="356.89" cy="193.09" r="1.5" fill="#ff8c00"/><circle cx="357.79" cy="193.54" r="1.5" fill="#ff8c00"/><circle cx="358.69" cy="193.98" r="1.5" fill="#ff8c00"/><circle cx="359.59" cy="194.41" r="1.5" fill="#ff8c00"/><circle cx="360.49" cy="194.84" r="1.5" fill="#ff8c00"/><circle cx="361.39" cy="195.25" r="1.5" fill="#ff8c00"/><circle cx="362.29" cy="195.7" r="1.5" fill="#ff8c00"/><circle cx="363.19" cy="196.11" r="1.5" fill="#ff8c00"/><circle cx="364.09" cy="196.51" r="1.5" fill="#ff8c00"/><circle cx="364.99" cy="196.91" r="1.5" fill="#ff8c00"/><circle cx="365.89" cy="197.34" r="1.5" fill="#ff8c00"/><circle cx="366.79" cy="197.75" r="1.5" fill="#ff8c00"/><circle cx="367.69" cy="198.14" r="1.5" fill="#ff8c00"/><circle cx="368.59" cy="198.57" r="1.5" fill="#ff8c00"/><circle cx="369.49" cy="198.97" r="1.5" fill="#ff8c00"/><circle cx="370.39" cy="199.37" r="1.5" fill="#ff8c00"/><circle cx="371.29" cy="199.78" r="1.5" fill="#ff8c00"/><circle cx="372.19" cy="200.18" r="1.5" fill="#ff8c00"/><circle cx="373.09" cy="200.57" r="1.5" fill="#ff8c00"/><circle cx="373.99" cy="200.97" r="1.5" fill="#ff8c00"/><circle cx="374.89" cy="201.36" r="1.5" fill="#ff8c00"/><circle cx="375.79" cy="201.75" r="1.5" fill="#ff8c00"/><circle cx="376.69" cy="202.14" r="1.5" fill="#ff8c00"/><circle cx="377.59" cy="202.54" r="1.5" fill="#ff8c00"/><circle cx="378.49" cy="202.92" r="1.5" fill="#ff8c00"/><circle cx="379.39" cy="203.3" r="1.5" fill="#ff8c00"/><circle cx="380.29" cy="203.7" r="1.5" fill="#ff8c00"/><circle cx="381.19" cy="204.08" r="1.5" fill="#ff8c00"/><circle cx="382.09" cy="204.47" r="1.5" fill="#ff8c00"/><circle cx="382.99" cy="204.86" r="1.5" fill="#ff8c00"/><circle cx="383.89" cy="205.24" r="1.5" fill="#ff8c00"/><circle cx="384.79" cy="205.62" r="1.5" fill="#ff8c00"/><circle cx="385.69" cy="206" r="1.5" fill="#ff8c00"/><circle cx="386.59" cy="206.4" r="1.5" fill="#ff8c00"/><circle cx="387.49" cy="206.77" r="1.5" fill="#ff8c00"/><circle cx="388.39" cy="207.16" r="1.5" fill="#ff8c00"/><circle cx="389.29" cy="207.54" r="1.5" fill="#ff8c00"/><circle cx="390.19" cy="207.91" r="1.5" fill="#ff8c00"/><circle cx="391.09" cy="208.29" r="1.5" fill="#ff8c00"/><circle cx="391.99" cy="208.67" r="1.5" fill="#ff8c00"/><path d="M149.2 32.62L160.21 36.03M160.21 36.03L169.6 40.04M169.6 40.04L177.79 43.43M177.79 43.43L185.03 47.76M185.03 47.76L191.54 50.88M191.54 50.88L197.45 54.94M197.45 54.94L202.85 59.23M202.85 59.23L207.83 61.12M207.83 61.12L212.45 65.67M212.45 65.67L216.76 67.89M216.76 67.89L220.8 73.86M220.8 73.86L224.59 76.09M224.59 76.09L228.17 79.57M228.17 79.57L231.56 83.49M231.56 83.49L234.78 85.85M234.78 85.85L237.85 87.56M237.85 87.56L240.77 91.12M240.77 91.12L243.57 91.67M243.57 91.67L246.24 95.86M246.24 95.86L248.81 97.96M248.81 97.96L251.28 98.71M251.28 98.71L253.66 103.49M253.66 103.49L255.95 103.91M255.95 103.91L258.17 107.16M258.17 107.16L260.31 108.31M260.31 108.31L262.38 111.43M262.38 111.43L264.38 113.63M264.38 113.63L266.32 113.98M266.32 113.98L268.21 115.39M268.21 115.39L270.04 118.23M270.04 118.23L271.82 120.66M271.82 120.66L273.55 121.51M273.55 121.51L275.24 122.99M275.24 122.99L276.88 125.28M276.88 125.28L278.48 124.79M278.48 124.79L280.04 127.59M280.04 127.59L281.57 128.63M281.57 128.63L283.06 131M283.06 131L284.51 131.78M284.51 131.78L285.94 132.9M285.94 132.9L287.33 134.6M287.33 134.6L288.69 135.3M288.69 135.3L290.02 137.28M290.02 137.28L291.33 138.18M291.33 138.18L292.61 139.54M292.61 139.54L293.86 140.57M293.86 140.57L295.09 142.46M295.09 142.46L296.3 143.16M296.3 143.16L297.48 144.55M297.48 144.55L298.65 145.64M298.65 145.64L299.79 146.22M299.79 146.22L300.91 147.82M300.91 147.82L302.01 148.79M302.01 148.79L303.1 149.81M303.1 149.81L304.16 150.59M304.16 150.59L305.21 151.59M305.21 151.59L306.24 152.99M306.24 152.99L307.26 154.4M307.26 154.4L308.26 154.42M308.26 154.42L309.24 155.79M309.24 155.79L310.21 156.47M310.21 156.47L311.16 157.73M311.16 157.73L312.1 158.54M312.1 158.54L313.03 159.61M313.03 159.61L313.94 159.51M313.94 159.51L314.84 160.96M314.84 160.96L315.74 161.76M315.74 161.76L316.64 162.87M316.64 162.87L317.54 163.63M317.54 163.63L318.44 164.55M318.44 164.55L319.34 165.75M319.34 165.75L320.24 166.92M320.24 166.92L321.14 166.85M321.14 166.85L322.04 168.28M322.04 168.28L322.94 169.3M322.94 169.3L323.84 170.15M323.84 170.15L324.74 170.98M324.74 170.98L325.64 171.71M325.64 171.71L326.54 172.68M326.54 172.68L327.44 173.86M327.44 173.86L328.34 174.8M328.34 174.8L329.24 175.54M329.24 175.54L330.14 176.3M330.14 176.3L331.04 177.33M331.04 177.33L331.94 178.19M331.94 178.19L332.84 179.2M332.84 179.2L333.74 180.04M333.74 180.04L334.64 180.86M334.64 180.86L335.54 181.83M335.54 181.83L336.44 182.49M336.44 182.49L337.34 183.53M337.34 183.53L338.24 184.36M338.24 184.36L339.14 184.86M339.14 184.86L340.04 185.78M340.04 185.78L340.94 186.36M340.94 186.36L341.84 187.26M341.84 187.26L342.74 187.92M342.74 187.92L343.64 188.48M343.64 188.48L344.54 189.25M344.54 189.25L345.44 189.79M345.44 189.79L346.34 190.42M346.34 190.42L347.24 191.06M347.24 191.06L348.14 191.73M348.14 191.73L349.04 192.34M349.04 192.34L349.94 192.99M349.94 192.99L350.84 193.55M350.84 193.55L351.74 194.25M351.74 194.25L352.64 194.88M352.64 194.88L353.54 195.39M353.54 195.39L354.44 195.94M354.44 195.94L355.34 196.65M355.34 196.65L356.24 197.26M356.24 197.26L357.14 197.77M357.14 197.77L358.04 198.27M358.04 198.27L358.94 198.91M358.94 198.91L359.84 199.51M359.84 199.51L360.74 199.89M360.74 199.89L361.64 200.53M361.64 200.53L362.54 201.03M362.54 201.03L363.44 201.54M363.44 201.54L364.34 202.12M364.34 202.12L365.24 202.58M365.24 202.58L366.14 203.17M366.14 203.17L367.04 203.74M367.04 203.74L367.94 204.22M367.94 204.22L368.84 204.71M368.84 204.71L369.74 205.2M369.74 205.2L370.64 205.73M370.64 205.73L371.54 206.22M371.54 206.22L372.44 206.83M372.44 206.83L373.34 207.28M373.34 207.28L374.24 207.76M374.24 207.76L375.14 208.25M375.14 208.25L376.04 208.76M376.04 208.76L376.94 209.27M376.94 209.27L377.84 209.75M377.84 209.75L378.74 210.3M378.74 210.3L379.64 210.74M379.64 210.74L380.54 211.23M380.54 211.23L381.44 211.74M381.44 211.74L382.34 212.24M382.34 212.24L383.24 212.72M383.24 212.72L384.14 213.17M384.14 213.17L385.04 213.67M385.04 213.67L385.94 214.15M385.94 214.15L386.84 214.63M386.84 214.63L387.74 215.1M387.74 215.1L388.64 215.56M388.64 215.56L389.54 216.03M389.54 216.03L390.44 216.53M390.44 216.53L391.34 216.98M391.34 216.98L392.24 217.49" stroke="#006400" stroke-width="1" stroke-dasharray="2.1 1.3" fill="none"/><circle cx="149.2" cy="32.62" r="1.2" fill="#006400"/><circle cx="160.21" cy="36.03" r="1.2" fill="#006400"/><circle cx="169.6" cy="40.04" r="1.2" fill="#006400"/><circle cx="177.79" cy="43.43" r="1.2" fill="#006400"/><circle cx="185.03" cy="47.76" r="1.2" fill="#006400"/><circle cx="191.54" cy="50.88" r="1.2" fill="#006400"/><circle cx="197.45" cy="54.94" r="1.2" fill="#006400"/><circle cx="202.85" cy="59.23" r="1.2" fill="#006400"/><circle cx="207.83" cy="61.12" r="1.2" fill="#006400"/><circle cx="212.45" cy="65.67" r="1.2" fill="#006400"/><circle cx="216.76" cy="67.89" r="1.2" fill="#006400"/><circle cx="220.8" cy="73.86" r="1.2" fill="#006400"/><circle cx="224.59" cy="76.09" r="1.2" fill="#006400"/><circle cx="228.17" cy="79.57" r="1.2" fill="#006400"/><circle cx="231.56" cy="83.49" r="1.2" fill="#006400"/><circle cx="234.78" cy="85.85" r="1.2" fill="#006400"/><circle cx="237.85" cy="87.56" r="1.2" fill="#006400"/><circle cx="240.77" cy="91.12" r="1.2" fill="#006400"/><circle cx="243.57" cy="91.67" r="1.2" fill="#006400"/><circle cx="246.24" cy="95.86" r="1.2" fill="#006400"/><circle cx="248.81" cy="97.96" r="1.2" fill="#006400"/><circle cx="251.28" cy="98.71" r="1.2" fill="#006400"/><circle cx="253.66" cy="103.49" r="1.2" fill="#006400"/><circle cx="255.95" cy="103.91" r="1.2" fill="#006400"/><circle cx="258.17" cy="107.16" r="1.2" fill="#006400"/><circle cx="260.31" cy="108.31" r="1.2" fill="#006400"/><circle cx="262.38" cy="111.43" r="1.2" fill="#006400"/><circle cx="264.38" cy="113.63" r="1.2" fill="#006400"/><circle cx="266.32" cy="113.98" r="1.2" fill="#006400"/><circle cx="268.21" cy="115.39" r="1.2" fill="#006400"/><circle cx="270.04" cy="118.23" r="1.2" fill="#006400"/><circle cx="271.82" cy="120.66" r="1.2" fill="#006400"/><circle cx="273.55" cy="121.51" r="1.2" fill="#006400"/><circle cx="275.24" cy="122.99" r="1.2" fill="#006400"/><circle cx="276.88" cy="125.28" r="1.2" fill="#006400"/><circle cx="278.48" cy="124.79" r="1.2" fill="#006400"/><circle cx="280.04" cy="127.59" r="1.2" fill="#006400"/><circle cx="281.57" cy="128.63" r="1.2" fill="#006400"/><circle cx="283.06" cy="131" r="1.2" fill="#006400"/><circle cx="284.51" cy="131.78" r="1.2" fill="#006400"/><circle cx="285.94" cy="132.9" r="1.2" fill="#006400"/><circle cx="287.33" cy="134.6" r="1.2" fill="#006400"/><circle cx="288.69" cy="135.3" r="1.2" fill="#006400"/><circle cx="290.02" cy="137.28" r="1.2" fill="#006400"/><circle cx="291.33" cy="138.18" r="1.2" fill="#006400"/><circle cx="292.61" cy="139.54" r="1.2" fill="#006400"/><circle cx="293.86" cy="140.57" r="1.2" fill="#006400"/><circle cx="295.09" cy="142.46" r="1.2" fill="#006400"/><circle cx="296.3" cy="143.16" r="1.2" fill="#006400"/><circle cx="297.48" cy="144.55" r="1.2" fill="#006400"/><circle cx="298.65" cy="145.64" r="1.2" fill="#006400"/><circle cx="299.79" cy="146.22" r="1.2" fill="#006400"/><circle cx="300.91" cy="147.82" r="1.2" fill="#006400"/><circle cx="302.01" cy="148.79" r="1.2" fill="#006400"/><circle cx="303.1" cy="149.81" r="1.2" fill="#006400"/><circle cx="304.16" cy="150.59" r="1.2" fill="#006400"/><circle cx="305.21" cy="151.59" r="1.2" fill="#006400"/><circle cx="306.24" cy="152.99" r="1.2" fill="#006400"/><circle cx="307.26" cy="154.4" r="1.2" fill="#006400"/><circle cx="308.26" cy="154.42" r="1.2" fill="#006400"/><circle cx="309.24" cy="155.79" r="1.2" fill="#006400"/><circle cx="310.21" cy="156.47" r="1.2" fill="#006400"/><circle cx="311.16" cy="157.73" r="1.2" fill="#006400"/><circle cx="312.1" cy="158.54" r="1.2" fill="#006400"/><circle cx="313.03" cy="159.61" r="1.2" fill="#006400"/><circle cx="313.94" cy="159.51" r="1.2" fill="#006400"/><circle cx="314.84" cy="160.96" r="1.2" fill="#006400"/><circle cx="315.74" cy="161.76" r="1.2" fill="#006400"/><circle cx="316.64" cy="162.87" r="1.2" fill="#006400"/><circle cx="317.54" cy="163.63" r="1.2" fill="#006400"/><circle cx="318.44" cy="164.55" r="1.2" fill="#006400"/><circle cx="319.34" cy="165.75" r="1.2" fill="#006400"/><circle cx="320.24" cy="166.92" r="1.2" fill="#006400"/><circle cx="321.14" cy="166.85" r="1.2" fill="#006400"/><circle cx="322.04" cy="168.28" r="1.2" fill="#006400"/><circle cx="322.94" cy="169.3" r="1.2" fill="#006400"/><circle cx="323.84" cy="170.15" r="1.2" fill="#006400"/><circle cx="324.74" cy="170.98" r="1.2" fill="#006400"/><circle cx="325.64" cy="171.71" r="1.2" fill="#006400"/><circle cx="326.54" cy="172.68" r="1.2" fill="#006400"/><circle cx="327.44" cy="173.86" r="1.2" fill="#006400"/><circle cx="328.34" cy="174.8" r="1.2" fill="#006400"/><circle cx="329.24" cy="175.54" r="1.2" fill="#006400"/><circle cx="330.14" cy="176.3" r="1.2" fill="#006400"/><circle cx="331.04" cy="177.33" r="1.2" fill="#006400"/><circle cx="331.94" cy="178.19" r="1.2" fill="#006400"/><circle cx="332.84" cy="179.2" r="1.2" fill="#006400"/><circle cx="333.74" cy="180.04" r="1.2" fill="#006400"/><circle cx="334.64" cy="180.86" r="1.2" fill="#006400"/><circle cx="335.54" cy="181.83" r="1.2" fill="#006400"/><circle cx="336.44" cy="182.49" r="1.2" fill="#006400"/><circle cx="337.34" cy="183.53" r="1.2" fill="#006400"/><circle cx="338.24" cy="184.36" r="1.2" fill="#006400"/><circle cx="339.14" cy="184.86" r="1.2" fill="#006400"/><circle cx="340.04" cy="185.78" r="1.2" fill="#006400"/><circle cx="340.94" cy="186.36" r="1.2" fill="#006400"/><circle cx="341.84" cy="187.26" r="1.2" fill="#006400"/><circle cx="342.74" cy="187.92" r="1.2" fill="#006400"/><circle cx="343.64" cy="188.48" r="1.2" fill="#006400"/><circle cx="344.54" cy="189.25" r="1.2" fill="#006400"/><circle cx="345.44" cy="189.79" r="1.2" fill="#006400"/><circle cx="346.34" cy="190.42" r="1.2" fill="#006400"/><circle cx="347.24" cy="191.06" r="1.2" fill="#006400"/><circle cx="348.14" cy="191.73" r="1.2" fill="#006400"/><circle cx="349.04" cy="192.34" r="1.2" fill="#006400"/><circle cx="349.94" cy="192.99" r="1.2" fill="#006400"/><circle cx="350.84" cy="193.55" r="1.2" fill="#006400"/><circle cx="351.74" cy="194.25" r="1.2" fill="#006400"/><circle cx="352.64" cy="194.88" r="1.2" fill="#006400"/><circle cx="353.54" cy="195.39" r="1.2" fill="#006400"/><circle cx="354.44" cy="195.94" r="1.2" fill="#006400"/><circle cx="355.34" cy="196.65" r="1.2" fill="#006400"/><circle cx="356.24" cy="197.26" r="1.2" fill="#006400"/><circle cx="357.14" cy="197.77" r="1.2" fill="#006400"/><circle cx="358.04" cy="198.27" r="1.2" fill="#006400"/><circle cx="358.94" cy="198.91" r="1.2" fill="#006400"/><circle cx="359.84" cy="199.51" r="1.2" fill="#006400"/><circle cx="360.74" cy="199.89" r="1.2" fill="#006400"/><circle cx="361.64" cy="200.53" r="1.2" fill="#006400"/><circle cx="362.54" cy="201.03" r="1.2" fill="#006400"/><circle cx="363.44" cy="201.54" r="1.2" fill="#006400"/><circle cx="364.34" cy="202.12" r="1.2" fill="#006400"/><circle cx="365.24" cy="202.58" r="1.2" fill="#006400"/><circle cx="366.14" cy="203.17" r="1.2" fill="#006400"/><circle cx="367.04" cy="203.74" r="1.2" fill="#006400"/><circle cx="367.94" cy="204.22" r="1.2" fill="#006400"/><circle cx="368.84" cy="204.71" r="1.2" fill="#006400"/><circle cx="369.74" cy="205.2" r="1.2" fill="#006400"/><circle cx="370.64" cy="205.73" r="1.2" fill="#006400"/><circle cx="371.54" cy="206.22" r="1.2" fill="#006400"/><circle cx="372.44" cy="206.83" r="1.2" fill="#006400"/><circle cx="373.34" cy="207.28" r="1.2" fill="#006400"/><circle cx="374.24" cy="207.76" r="1.2" fill="#006400"/><circle cx="375.14" cy="208.25" r="1.2" fill="#006400"/><circle cx="376.04" cy="208.76" r="1.2" fill="#006400"/><circle cx="376.94" cy="209.27" r="1.2" fill="#006400"/><circle cx="377.84" cy="209.75" r="1.2" fill="#006400"/><circle cx="378.74" cy="210.3" r="1.2" fill="#006400"/><circle cx="379.64" cy="210.74" r="1.2" fill="#006400"/><circle cx="380.54" cy="211.23" r="1.2" fill="#006400"/><circle cx="381.44" cy="211.74" r="1.2" fill="#006400"/><circle cx="382.34" cy="212.24" r="1.2" fill="#006400"/><circle cx="383.24" cy="212.72" r="1.2" fill="#006400"/><circle cx="384.14" cy="213.17" r="1.2" fill="#006400"/><circle cx="385.04" cy="213.67" r="1.2" fill="#006400"/><circle cx="385.94" cy="214.15" r="1.2" fill="#006400"/><circle cx="386.84" cy="214.63" r="1.2" fill="#006400"/><circle cx="387.74" cy="215.1" r="1.2" fill="#006400"/><circle cx="388.64" cy="215.56" r="1.2" fill="#006400"/><circle cx="389.54" cy="216.03" r="1.2" fill="#006400"/><circle cx="390.44" cy="216.53" r="1.2" fill="#006400"/><circle cx="391.34" cy="216.98" r="1.2" fill="#006400"/><circle cx="392.24" cy="217.49" r="1.2" fill="#006400"/><path d="M179.4 44.42L184.99 47.11M184.99 47.11L190.14 50.13M190.14 50.13L194.89 52.55M194.89 52.55L199.32 55.91M199.32 55.91L203.46 59.73M203.46 59.73L207.35 60.27M207.35 60.27L211.01 63M211.01 63L214.48 67.95M214.48 67.95L217.76 70.2M217.76 70.2L220.89 73.09M220.89 73.09L223.86 75.82M223.86 75.82L226.71 77.7M226.71 77.7L229.43 80.81M229.43 80.81L232.05 81.68M232.05 81.68L234.56 84.65M234.56 84.65L236.97 86.16M236.97 86.16L239.3 88.12M239.3 88.12L241.54 91.57M241.54 91.57L243.71 93.55M243.71 93.55L245.8 93.63M245.8 93.63L247.83 96.11M247.83 96.11L249.8 98.96M249.8 98.96L251.71 101.29M251.71 101.29L253.56 101.77M253.56 101.77L255.36 103.81M255.36 103.81L257.11 104.59M257.11 104.59L258.82 109.02M258.82 109.02L260.48 109.15M260.48 109.15L262.09 111.02M262.09 111.02L263.67 112.4M263.67 112.4L265.21 114.14M265.21 114.14L266.71 115.44M266.71 115.44L268.18 116.24M268.18 116.24L269.62 118.46M269.62 118.46L271.02 119.35M271.02 119.35L272.4 121.61M272.4 121.61L273.74 121.38M273.74 121.38L275.06 122.8M275.06 122.8L276.35 124.97M276.35 124.97L277.61 126.67M277.61 126.67L278.85 126.97M278.85 126.97L280.07 127.45M280.07 127.45L281.26 129.05M281.26 129.05L282.43 129.85M282.43 129.85L283.58 132.87M283.58 132.87L284.71 133.11M284.71 133.11L285.82 134.44M285.82 134.44L286.91 134.66M286.91 134.66L287.99 134.93M287.99 134.93L289.04 137.36M289.04 137.36L290.08 138.74M290.08 138.74L291.1 138.79M291.1 138.79L292.11 139.22M292.11 139.22L293.1 141.1M293.1 141.1L294.07 140.77M294.07 140.77L295.03 142.66M295.03 142.66L295.98 142.29M295.98 142.29L296.91 142.95M296.91 142.95L297.83 145.15M297.83 145.15L298.73 145.82M298.73 145.82L299.63 148.04M299.63 148.04L300.53 147M300.53 147L301.43 148.13M301.43 148.13L302.33 147.98M302.33 147.98L303.23 148.22M303.23 148.22L304.13 149.17M304.13 149.17L305.03 151.96M305.03 151.96L305.93 151.43M305.93 151.43L306.83 154.25M306.83 154.25L307.73 155.36M307.73 155.36L308.63 154.8M308.63 154.8L309.53 157.29M309.53 157.29L310.43 156.98M310.43 156.98L311.33 158.59M311.33 158.59L312.23 158.37M312.23 158.37L313.13 160.2M313.13 160.2L314.03 159.57M314.03 159.57L314.93 161.69M314.93 161.69L315.83 161.74M315.83 161.74L316.73 162.89M316.73 162.89L317.63 164.35M317.63 164.35L318.53 164.91M318.53 164.91L319.43 165.64M319.43 165.64L320.33 167.13M320.33 167.13L321.23 168.08M321.23 168.08L322.13 167.47M322.13 167.47L323.03 169.71M323.03 169.71L323.93 170.68M323.93 170.68L324.83 170.64M324.83 170.64L325.73 172.28M325.73 172.28L326.63 172.1M326.63 172.1L327.53 174.71M327.53 174.71L328.43 174.58M328.43 174.58L329.33 175.57M329.33 175.57L330.23 177.21M330.23 177.21L331.13 177.33M331.13 177.33L332.03 178.64M332.03 178.64L332.93 178.64M332.93 178.64L333.83 179.82M333.83 179.82L334.73 180.3M334.73 180.3L335.63 181.84M335.63 181.84L336.53 183.39M336.53 183.39L337.43 183.93M337.43 183.93L338.33 185.19M338.33 185.19L339.23 185.24M339.23 185.24L340.13 186.25M340.13 186.25L341.03 187.36M341.03 187.36L341.93 188.7M341.93 188.7L342.83 189.47M342.83 189.47L343.73 190.15M343.73 190.15L344.63 191.23M344.63 191.23L345.53 191.73M345.53 191.73L346.43 192.59M346.43 192.59L347.33 193.88M347.33 193.88L348.23 193.94M348.23 193.94L349.13 194.99M349.13 194.99L350.03 196.26M350.03 196.26L350.93 196.47M350.93 196.47L351.83 197.42M351.83 197.42L352.73 197.72M352.73 197.72L353.63 199.3M353.63 199.3L354.53 198.65M354.53 198.65L355.43 199.74M355.43 199.74L356.33 200.49M356.33 200.49L357.23 202.03M357.23 202.03L358.13 202.34M358.13 202.34L359.03 202.85M359.03 202.85L359.93 203.23M359.93 203.23L360.83 204.39M360.83 204.39L361.73 204.98M361.73 204.98L362.63 205.41M362.63 205.41L363.53 205.83M363.53 205.83L364.43 206.58M364.43 206.58L365.33 207.56M365.33 207.56L366.23 208.2M366.23 208.2L367.13 208.74M367.13 208.74L368.03 209.28M368.03 209.28L368.93 209.46M368.93 209.46L369.83 210.51M369.83 210.51L370.73 210.81M370.73 210.81L371.63 211.66M371.63 211.66L372.53 212.33M372.53 212.33L373.43 212.61M373.43 212.61L374.33 213.08M374.33 213.08L375.23 214.12M375.23 214.12L376.13 214.51M376.13 214.51L377.03 214.82M377.03 214.82L377.93 214.79M377.93 214.79L378.83 216.02M378.83 216.02L379.73 216.71M379.73 216.71L380.63 217.34M380.63 217.34L381.53 217.43M381.53 217.43L382.43 217.95M382.43 217.95L383.33 218.5M383.33 218.5L384.23 219.3M384.23 219.3L385.13 219.34M385.13 219.34L386.03 220.08M386.03 220.08L386.93 220.39M386.93 220.39L387.83 221.16M387.83 221.16L388.73 221.24M388.73 221.24L389.63 222.16M389.63 222.16L390.53 222.45M390.53 222.45L391.43 222.99" stroke="#0000cd" stroke-width="1" stroke-dasharray="2.1 1.3" fill="none"/><path d="M177.75 43.27L181.05 43.27L179.4 46.24Z" fill="#0000cd"/><path d="M183.34 45.95L186.64 45.95L184.99 48.92Z" fill="#0000cd"/><path d="M188.49 48.98L191.79 48.98L190.14 51.95Z" fill="#0000cd"/><path d="M193.24 51.4L196.54 51.4L194.89 54.37Z" fill="#0000cd"/><path d="M197.67 54.75L200.97 54.75L199.32 57.72Z" fill="#0000cd"/><path d="M201.81 58.57L205.11 58.57L203.46 61.54Z" fill="#0000cd"/><path d="M205.7 59.12L209 59.12L207.35 62.09Z" fill="#0000cd"/><path d="M209.36 61.85L212.66 61.85L211.01 64.82Z" fill="#0000cd"/><path d="M212.83 66.79L216.13 66.79L214.48 69.76Z" fill="#0000cd"/><path d="M216.11 69.05L219.41 69.05L217.76 72.02Z" fill="#0000cd"/><path d="M219.24 71.94L222.54 71.94L220.89 74.91Z" fill="#0000cd"/><path d="M222.21 74.66L225.51 74.66L223.86 77.63Z" fill="#0000cd"/><path d="M225.06 76.54L228.36 76.54L226.71 79.51Z" fill="#0000cd"/><path d="M227.78 79.65L231.08 79.65L229.43 82.62Z" fill="#0000cd"/><path d="M230.4 80.53L233.7 80.53L232.05 83.5Z" fill="#0000cd"/><path d="M232.91 83.5L236.21 83.5L234.56 86.47Z" fill="#0000cd"/><path d="M235.32 85L238.62 85L236.97 87.97Z" fill="#0000cd"/><path d="M237.65 86.97L240.95 86.97L239.3 89.94Z" fill="#0000cd"/><path d="M239.89 90.41L243.19 90.41L241.54 93.38Z" fill="#0000cd"/><path d="M242.06 92.39L245.36 92.39L243.71 95.36Z" fill="#0000cd"/><path d="M244.15 92.47L247.45 92.47L245.8 95.44Z" fill="#0000cd"/><path d="M246.18 94.96L249.48 94.96L247.83 97.93Z" fill="#0000cd"/><path d="M248.15 97.81L251.45 97.81L249.8 100.78Z" fill="#0000cd"/><path d="M250.06 100.14L253.36 100.14L251.71 103.11Z" fill="#0000cd"/><path d="M251.91 100.61L255.21 100.61L253.56 103.58Z" fill="#0000cd"/><path d="M253.71 102.66L257.01 102.66L255.36 105.63Z" fill="#0000cd"/><path d="M255.46 103.43L258.76 103.43L257.11 106.4Z" fill="#0000cd"/><path d="M257.17 107.86L260.47 107.86L258.82 110.83Z" fill="#0000cd"/><path d="M258.83 108L262.13 108L260.48 110.97Z" fill="#0000cd"/><path d="M260.44 109.86L263.74 109.86L262.09 112.83Z" fill="#0000cd"/><path d="M262.02 111.24L265.32 111.24L263.67 114.21Z" fill="#0000cd"/><path d="M263.56 112.99L266.86 112.99L265.21 115.96Z" fill="#0000cd"/><path d="M265.06 114.29L268.36 114.29L266.71 117.26Z" fill="#0000cd"/><path d="M266.53 115.08L269.83 115.08L268.18 118.05Z" fill="#0000cd"/><path d="M267.97 117.3L271.27 117.3L269.62 120.27Z" fill="#0000cd"/><path d="M269.37 118.19L272.67 118.19L271.02 121.16Z" fill="#0000cd"/><path d="M270.75 120.45L274.05 120.45L272.4 123.42Z" fill="#0000cd"/><path d="M272.09 120.23L275.39 120.23L273.74 123.2Z" fill="#0000cd"/><path d="M273.41 121.65L276.71 121.65L275.06 124.62Z" fill="#0000cd"/><path d="M274.7 123.81L278 123.81L276.35 126.78Z" fill="#0000cd"/><path d="M275.96 125.51L279.26 125.51L277.61 128.48Z" fill="#0000cd"/><path d="M277.2 125.82L280.5 125.82L278.85 128.79Z" fill="#0000cd"/><path d="M278.42 126.29L281.72 126.29L280.07 129.26Z" fill="#0000cd"/><path d="M279.61 127.9L282.91 127.9L281.26 130.87Z" fill="#0000cd"/><path d="M280.78 128.69L284.08 128.69L282.43 131.66Z" fill="#0000cd"/><path d="M281.93 131.71L285.23 131.71L283.58 134.68Z" fill="#0000cd"/><path d="M283.06 131.96L286.36 131.96L284.71 134.93Z" fill="#0000cd"/><path d="M284.17 133.29L287.47 133.29L285.82 136.26Z" fill="#0000cd"/><path d="M285.26 133.5L288.56 133.5L286.91 136.47Z" fill="#0000cd"/><path d="M286.34 133.78L289.64 133.78L287.99 136.75Z" fill="#0000cd"/><path d="M287.39 136.21L290.69 136.21L289.04 139.18Z" fill="#0000cd"/><path d="M288.43 137.59L291.73 137.59L290.08 140.56Z" fill="#0000cd"/><path d="M289.45 137.64L292.75 137.64L291.1 140.61Z" fill="#0000cd"/><path d="M290.46 138.06L293.76 138.06L292.11 141.03Z" fill="#0000cd"/><path d="M291.45 139.95L294.75 139.95L293.1 142.92Z" fill="#0000cd"/><path d="M292.42 139.62L295.72 139.62L294.07 142.59Z" fill="#0000cd"/><path d="M293.38 141.51L296.68 141.51L295.03 144.48Z" fill="#0000cd"/><path d="M294.33 141.13L297.63 141.13L295.98 144.1Z" fill="#0000cd"/><path d="M295.26 141.79L298.56 141.79L296.91 144.76Z" fill="#0000cd"/><path d="M296.18 144L299.48 144L297.83 146.97Z" fill="#0000cd"/><path d="M297.08 144.66L300.38 144.66L298.73 147.63Z" fill="#0000cd"/><path d="M297.98 146.88L301.28 146.88L299.63 149.85Z" fill="#0000cd"/><path d="M298.88 145.85L302.18 145.85L300.53 148.82Z" fill="#0000cd"/><path d="M299.78 146.97L303.08 146.97L301.43 149.94Z" fill="#0000cd"/><path d="M300.68 146.83L303.98 146.83L302.33 149.8Z" fill="#0000cd"/><path d="M301.58 147.07L304.88 147.07L303.23 150.04Z" fill="#0000cd"/><path d="M302.48 148.01L305.78 148.01L304.13 150.98Z" fill="#0000cd"/><path d="M303.38 150.8L306.68 150.8L305.03 153.77Z" fill="#0000cd"/><path d="M304.28 150.28L307.58 150.28L305.93 153.25Z" fill="#0000cd"/><path d="M305.18 153.09L308.48 153.09L306.83 156.06Z" fill="#0000cd"/><path d="M306.08 154.21L309.38 154.21L307.73 157.18Z" fill="#0000cd"/><path d="M306.98 153.65L310.28 153.65L308.63 156.62Z" fill="#0000cd"/><path d="M307.88 156.13L311.18 156.13L309.53 159.1Z" fill="#0000cd"/><path d="M308.78 155.82L312.08 155.82L310.43 158.79Z" fill="#0000cd"/><path d="M309.68 157.43L312.98 157.43L311.33 160.4Z" fill="#0000cd"/><path d="M310.58 157.21L313.88 157.21L312.23 160.18Z" fill="#0000cd"/><path d="M311.48 159.04L314.78 159.04L313.13 162.01Z" fill="#0000cd"/><path d="M312.38 158.42L315.68 158.42L314.03 161.39Z" fill="#0000cd"/><path d="M313.28 160.53L316.58 160.53L314.93 163.5Z" fill="#0000cd"/><path d="M314.18 160.59L317.48 160.59L315.83 163.56Z" fill="#0000cd"/><path d="M315.08 161.73L318.38 161.73L316.73 164.7Z" fill="#0000cd"/><path d="M315.98 163.2L319.28 163.2L317.63 166.17Z" fill="#0000cd"/><path d="M316.88 163.76L320.18 163.76L318.53 166.73Z" fill="#0000cd"/><path d="M317.78 164.48L321.08 164.48L319.43 167.45Z" fill="#0000cd"/><path d="M318.68 165.97L321.98 165.97L320.33 168.94Z" fill="#0000cd"/><path d="M319.58 166.93L322.88 166.93L321.23 169.9Z" fill="#0000cd"/><path d="M320.48 166.32L323.78 166.32L322.13 169.29Z" fill="#0000cd"/><path d="M321.38 168.56L324.68 168.56L323.03 171.53Z" fill="#0000cd"/><path d="M322.28 169.53L325.58 169.53L323.93 172.5Z" fill="#0000cd"/><path d="M323.18 169.49L326.48 169.49L324.83 172.46Z" fill="#0000cd"/><path d="M324.08 171.13L327.38 171.13L325.73 174.1Z" fill="#0000cd"/><path d="M324.98 170.94L328.28 170.94L326.63 173.91Z" fill="#0000cd"/><path d="M325.88 173.56L329.18 173.56L327.53 176.53Z" fill="#0000cd"/><path d="M326.78 173.42L330.08 173.42L328.43 176.39Z" fill="#0000cd"/><path d="M327.68 174.41L330.98 174.41L329.33 177.38Z" fill="#0000cd"/><path d="M328.58 176.05L331.88 176.05L330.23 179.02Z" fill="#0000cd"/><path d="M329.48 176.17L332.78 176.17L331.13 179.14Z" fill="#0000cd"/><path d="M330.38 177.49L333.68 177.49L332.03 180.46Z" fill="#0000cd"/><path d="M331.28 177.49L334.58 177.49L332.93 180.46Z" fill="#0000cd"/><path d="M332.18 178.66L335.48 178.66L333.83 181.63Z" fill="#0000cd"/><path d="M333.08 179.15L336.38 179.15L334.73 182.12Z" fill="#0000cd"/><path d="M333.98 180.69L337.28 180.69L335.63 183.66Z" fill="#0000cd"/><path d="M334.88 182.24L338.18 182.24L336.53 185.21Z" fill="#0000cd"/><path d="M335.78 182.78L339.08 182.78L337.43 185.75Z" fill="#0000cd"/><path d="M336.68 184.04L339.98 184.04L338.33 187.01Z" fill="#0000cd"/><path d="M337.58 184.08L340.88 184.08L339.23 187.05Z" fill="#0000cd"/><path d="M338.48 185.09L341.78 185.09L340.13 188.06Z" fill="#0000cd"/><path d="M339.38 186.2L342.68 186.2L341.03 189.17Z" fill="#0000cd"/><path d="M340.28 187.55L343.58 187.55L341.93 190.52Z" fill="#0000cd"/><path d="M341.18 188.31L344.48 188.31L342.83 191.28Z" fill="#0000cd"/><path d="M342.08 188.99L345.38 188.99L343.73 191.96Z" fill="#0000cd"/><path d="M342.98 190.08L346.28 190.08L344.63 193.05Z" fill="#0000cd"/><path d="M343.88 190.58L347.18 190.58L345.53 193.55Z" fill="#0000cd"/><path d="M344.78 191.43L348.08 191.43L346.43 194.4Z" fill="#0000cd"/><path d="M345.68 192.72L348.98 192.72L347.33 195.69Z" fill="#0000cd"/><path d="M346.58 192.79L349.88 192.79L348.23 195.76Z" fill="#0000cd"/><path d="M347.48 193.84L350.78 193.84L349.13 196.81Z" fill="#0000cd"/><path d="M348.38 195.1L351.68 195.1L350.03 198.07Z" fill="#0000cd"/><path d="M349.28 195.32L352.58 195.32L350.93 198.29Z" fill="#0000cd"/><path d="M350.18 196.27L353.48 196.27L351.83 199.24Z" fill="#0000cd"/><path d="M351.08 196.56L354.38 196.56L352.73 199.53Z" fill="#0000cd"/><path d="M351.98 198.15L355.28 198.15L353.63 201.12Z" fill="#0000cd"/><path d="M352.88 197.5L356.18 197.5L354.53 200.47Z" fill="#0000cd"/><path d="M353.78 198.59L357.08 198.59L355.43 201.56Z" fill="#0000cd"/><path d="M354.68 199.34L357.98 199.34L356.33 202.31Z" fill="#0000cd"/><path d="M355.58 200.87L358.88 200.87L357.23 203.84Z" fill="#0000cd"/><path d="M356.48 201.18L359.78 201.18L358.13 204.15Z" fill="#0000cd"/><path d="M357.38 201.69L360.68 201.69L359.03 204.66Z" fill="#0000cd"/><path d="M358.28 202.08L361.58 202.08L359.93 205.05Z" fill="#0000cd"/><path d="M359.18 203.23L362.48 203.23L360.83 206.2Z" fill="#0000cd"/><path d="M360.08 203.82L363.38 203.82L361.73 206.79Z" fill="#0000cd"/><path d="M360.98 204.25L364.28 204.25L362.63 207.22Z" fill="#0000cd"/><path d="M361.88 204.68L365.18 204.68L363.53 207.65Z" fill="#0000cd"/><path d="M362.78 205.42L366.08 205.42L364.43 208.39Z" fill="#0000cd"/><path d="M363.68 206.41L366.98 206.41L365.33 209.38Z" fill="#0000cd"/><path d="M364.58 207.05L367.88 207.05L366.23 210.02Z" fill="#0000cd"/><path d="M365.48 207.59L368.78 207.59L367.13 210.56Z" fill="#0000cd"/><path d="M366.38 208.13L369.68 208.13L368.03 211.1Z" fill="#0000cd"/><path d="M367.28 208.3L370.58 208.3L368.93 211.27Z" fill="#0000cd"/><path d="M368.18 209.36L371.48 209.36L369.83 212.33Z" fill="#0000cd"/><path d="M369.08 209.66L372.38 209.66L370.73 212.63Z" fill="#0000cd"/><path d="M369.98 210.5L373.28 210.5L371.63 213.47Z" fill="#0000cd"/><path d="M370.88 211.18L374.18 211.18L372.53 214.15Z" fill="#0000cd"/><path d="M371.78 211.45L375.08 211.45L373.43 214.42Z" fill="#0000cd"/><path d="M372.68 211.92L375.98 211.92L374.33 214.89Z" fill="#0000cd"/><path d="M373.58 212.97L376.88 212.97L375.23 215.94Z" fill="#0000cd"/><path d="M374.48 213.36L377.78 213.36L376.13 216.33Z" fill="#0000cd"/><path d="M375.38 213.66L378.68 213.66L377.03 216.63Z" fill="#0000cd"/><path d="M376.28 213.63L379.58 213.63L377.93 216.6Z" fill="#0000cd"/><path d="M377.18 214.87L380.48 214.87L378.83 217.84Z" fill="#0000cd"/><path d="M378.08 215.55L381.38 215.55L379.73 218.52Z" fill="#0000cd"/><path d="M378.98 216.19L382.28 216.19L380.63 219.16Z" fill="#0000cd"/><path d="M379.88 216.28L383.18 216.28L381.53 219.25Z" fill="#0000cd"/><path d="M380.78 216.8L384.08 216.8L382.43 219.77Z" fill="#0000cd"/><path d="M381.68 217.35L384.98 217.35L383.33 220.32Z" fill="#0000cd"/><path d="M382.58 218.15L385.88 218.15L384.23 221.12Z" fill="#0000cd"/><path d="M383.48 218.18L386.78 218.18L385.13 221.15Z" fill="#0000cd"/><path d="M384.38 218.93L387.68 218.93L386.03 221.9Z" fill="#0000cd"/><path d="M385.28 219.24L388.58 219.24L386.93 222.21Z" fill="#0000cd"/><path d="M386.18 220L389.48 220L387.83 222.97Z" fill="#0000cd"/><path d="M387.08 220.08L390.38 220.08L388.73 223.05Z" fill="#0000cd"/><path d="M387.98 221.01L391.28 221.01L389.63 223.98Z" fill="#0000cd"/><path d="M388.88 221.3L392.18 221.3L390.53 224.27Z" fill="#0000cd"/><path d="M389.78 221.84L393.08 221.84L391.43 224.81Z" fill="#0000cd"/></g>
<rect x="54.7" y="14.8" width="337.65" height="222.6" fill="none" stroke="#000" stroke-width="1.25"/>
<rect x="60.5" y="114.4" width="186.8" height="117" fill="#fff"/>
<path d="M81.55 231.4v-2M81.55 114.4v2M94.16 231.4v-2M94.16 114.4v2M103.11 231.4v-2M103.11 114.4v2M110.05 231.4v-2M110.05 114.4v2M115.72 231.4v-2M115.72 114.4v2M120.51 231.4v-2M120.51 114.4v2M124.66 231.4v-2M124.66 114.4v2M128.32 231.4v-2M128.32 114.4v2M131.6 231.4v-3.9M131.6 114.4v3.9M153.15 231.4v-2M153.15 114.4v2M165.76 231.4v-2M165.76 114.4v2M174.71 231.4v-2M174.71 114.4v2M181.65 231.4v-2M181.65 114.4v2M187.32 231.4v-2M187.32 114.4v2M192.11 231.4v-2M192.11 114.4v2M196.26 231.4v-2M196.26 114.4v2M199.92 231.4v-2M199.92 114.4v2M203.2 231.4v-3.9M203.2 114.4v3.9M224.75 231.4v-2M224.75 114.4v2M237.36 231.4v-2M237.36 114.4v2M246.31 231.4v-2M246.31 114.4v2M60.5 128.7h3.9M247.3 128.7h-3.9M60.5 124.46h2M247.3 124.46h-2M60.5 118.84h2M247.3 118.84h-2M60.5 115.97h2M247.3 115.97h-2M60.5 142.8h3.9M247.3 142.8h-3.9M60.5 138.56h2M247.3 138.56h-2M60.5 132.94h2M247.3 132.94h-2M60.5 130.07h2M247.3 130.07h-2M60.5 156.9h3.9M247.3 156.9h-3.9M60.5 152.66h2M247.3 152.66h-2M60.5 147.04h2M247.3 147.04h-2M60.5 144.17h2M247.3 144.17h-2M60.5 171h3.9M247.3 171h-3.9M60.5 166.76h2M247.3 166.76h-2M60.5 161.14h2M247.3 161.14h-2M60.5 158.27h2M247.3 158.27h-2M60.5 185.1h3.9M247.3 185.1h-3.9M60.5 180.86h2M247.3 180.86h-2M60.5 175.24h2M247.3 175.24h-2M60.5 172.37h2M247.3 172.37h-2M60.5 199.2h3.9M247.3 199.2h-3.9M60.5 194.96h2M247.3 194.96h-2M60.5 189.34h2M247.3 189.34h-2M60.5 186.47h2M247.3 186.47h-2M60.5 213.3h3.9M247.3 213.3h-3.9M60.5 209.06h2M247.3 209.06h-2M60.5 203.44h2M247.3 203.44h-2M60.5 200.57h2M247.3 200.57h-2M60.5 227.4h3.9M247.3 227.4h-3.9M60.5 223.16h2M247.3 223.16h-2M60.5 217.54h2M247.3 217.54h-2M60.5 214.67h2M247.3 214.67h-2M60.5 228.77h2M247.3 228.77h-2" stroke="#000" stroke-width="1.2" fill="none"/>
<path d="M67.75 189.2H203.3V231.4" stroke="#9c9c9c" stroke-width="1.1" fill="none"/>
<text x="94.6" y="186.3" font-family='"Liberation Sans", sans-serif' font-size="11.6" fill="#909090" stroke="#909090" stroke-width="0.25">t = 0</text>
<g><path d="M66.25 142.6L82.5 144.1M82.5 144.1L88.1 143.3M88.1 143.3L97.5 144.75M97.5 144.75L106.25 146.6M106.25 146.6L112.5 148.3M112.5 148.3L114 149.4" stroke="#ff0000" stroke-width="1.2" stroke-dasharray="3.2 1" fill="none"/><path d="M114 149.4L114.8 148.99M114.8 148.99L115.6 149.7M115.6 149.7L116.4 149.05M116.4 149.05L117.2 149.16M117.2 149.16L118 150.28M118 150.28L118.8 150.89M118.8 150.89L119.6 150.53M119.6 150.53L120.4 150.89M120.4 150.89L121.2 150.68M121.2 150.68L122 150.7M122 150.7L122.8 151.41M122.8 151.41L123.6 152.32M123.6 152.32L124.4 151.63M124.4 151.63L125.2 152.45M125.2 152.45L126 152.49M126 152.49L126.8 153.58M126.8 153.58L127.6 154.32M127.6 154.32L128.4 154.32M128.4 154.32L129.2 155.12M129.2 155.12L130 156.13M130 156.13L130.8 156.36M130.8 156.36L131.6 156.66M131.6 156.66L132.4 157.21M132.4 157.21L133.2 157.62M133.2 157.62L134 158.75M134 158.75L134.8 159.02M134.8 159.02L135.6 159.94M135.6 159.94L136.4 160.49M136.4 160.49L137.2 160.84M137.2 160.84L138 161.53M138 161.53L138.8 162.45M138.8 162.45L139.6 163.08M139.6 163.08L140.4 163.85M140.4 163.85L141.2 164.33M141.2 164.33L142 165.43M142 165.43L142.8 165.9M142.8 165.9L143.6 166.43M143.6 166.43L144.4 167.36M144.4 167.36L145.2 168.2M145.2 168.2L146 169.1M146 169.1L146.8 169.52M146.8 169.52L147.6 170.12M147.6 170.12L148.4 171.19M148.4 171.19L149.2 171.68M149.2 171.68L150 172.34M150 172.34L150.8 172.96M150.8 172.96L151.6 173.67M151.6 173.67L152.4 174.59M152.4 174.59L153.2 175.13M153.2 175.13L154 175.81M154 175.81L154.8 176.51M154.8 176.51L155.6 177.37M155.6 177.37L156.4 177.9M156.4 177.9L157.2 178.69M157.2 178.69L158 179.36M158 179.36L158.8 180.06M158.8 180.06L159.6 180.69M159.6 180.69L160.4 181.48M160.4 181.48L161.2 182.23M161.2 182.23L162 182.83M162 182.83L162.8 183.48M162.8 183.48L163.6 184.16M163.6 184.16L164.4 184.93M164.4 184.93L165.2 185.61M165.2 185.61L166 186.32M166 186.32L166.8 187.03M166.8 187.03L167.6 187.67M167.6 187.67L168.4 188.47M168.4 188.47L169.2 189.16M169.2 189.16L170 189.87M170 189.87L170.8 190.6M170.8 190.6L171.6 191.35M171.6 191.35L172.4 192.05M172.4 192.05L173.2 192.74M173.2 192.74L174 193.54M174 193.54L174.8 194.21M174.8 194.21L175.6 194.92M175.6 194.92L176.4 195.61M176.4 195.61L177.2 196.38M177.2 196.38L178 197.06M178 197.06L178.8 197.79M178.8 197.79L179.6 198.53M179.6 198.53L180.4 199.24M180.4 199.24L181.2 199.98M181.2 199.98L182 200.69M182 200.69L182.8 201.41M182.8 201.41L183.6 202.16M183.6 202.16L184.4 202.9M184.4 202.9L185.2 203.65M185.2 203.65L186 204.35M186 204.35L186.8 205.02M186.8 205.02L187.6 205.69M187.6 205.69L188.4 206.3M188.4 206.3L189.2 206.89M189.2 206.89L190 207.46M190 207.46L190.8 208.06M190.8 208.06L191.6 208.61M191.6 208.61L192.4 209.14M192.4 209.14L193.2 209.65M193.2 209.65L194 210.14M194 210.14L194.8 210.64M194.8 210.64L195.6 211.13M195.6 211.13L196.4 211.6M196.4 211.6L197.2 212.06M197.2 212.06L198 212.51M198 212.51L198.8 212.96M198.8 212.96L199.6 213.38M199.6 213.38L200.4 213.78M200.4 213.78L201.2 214.19M201.2 214.19L202 214.57M202 214.57L202.8 214.92M202.8 214.92L203.6 215.25M203.6 215.25L204.4 215.55M204.4 215.55L205.2 215.83M205.2 215.83L206 216.12M206 216.12L206.8 216.37M206.8 216.37L207.6 216.66M207.6 216.66L208.4 216.95M208.4 216.95L209.2 217.25M209.2 217.25L210 217.53M210 217.53L210.8 217.81M210.8 217.81L211.6 218.1M211.6 218.1L212.4 218.39M212.4 218.39L213.2 218.68M213.2 218.68L214 218.97M214 218.97L214.8 219.26M214.8 219.26L215.6 219.54M215.6 219.54L216.4 219.83M216.4 219.83L217.2 220.13M217.2 220.13L218 220.41M218 220.41L218.8 220.7M218.8 220.7L219.6 220.99M219.6 220.99L220.4 221.28M220.4 221.28L221.2 221.56M221.2 221.56L222 221.86M222 221.86L222.8 222.14M222.8 222.14L223.6 222.43M223.6 222.43L224.4 222.73M224.4 222.73L225.2 223.02M225.2 223.02L226 223.3M226 223.3L226.8 223.6M226.8 223.6L227.6 223.89M227.6 223.89L228.4 224.17M228.4 224.17L229.2 224.47M229.2 224.47L230 224.76M230 224.76L230.8 225.04M230.8 225.04L231.6 225.34M231.6 225.34L232.4 225.62M232.4 225.62L233.2 225.91M233.2 225.91L234 226.2M234 226.2L234.8 226.49M234.8 226.49L235.6 226.78M235.6 226.78L236.4 227.07M236.4 227.07L237.2 227.36M237.2 227.36L238 227.65M238 227.65L238.8 227.94M238.8 227.94L239.6 228.23M239.6 228.23L240.4 228.52M240.4 228.52L241.2 228.8M241.2 228.8L241.75 229" stroke="#ff0000" stroke-width="1.5" stroke-linecap="round" fill="none"/><path d="M66.25 131L83.75 133.9M83.75 133.9L86.9 132.8M86.9 132.8L97.5 138.25M97.5 138.25L106.25 141.6M106.25 141.6L112.5 146M112.5 146L114 146.71" stroke="#ff8c00" stroke-width="1.2" stroke-dasharray="3.2 1" fill="none"/><path d="M114 146.71L114.8 147.67M114.8 147.67L115.6 148.27M115.6 148.27L116.4 149.79M116.4 149.79L117.2 150M117.2 150L118 150.21M118 150.21L118.8 151.01M118.8 151.01L119.6 152.41M119.6 152.41L120.4 152.83M120.4 152.83L121.2 153.5M121.2 153.5L122 154.38M122 154.38L122.8 155.4M122.8 155.4L123.6 155.21M123.6 155.21L124.4 156.12M124.4 156.12L125.2 156.56M125.2 156.56L126 157.97M126 157.97L126.8 158.46M126.8 158.46L127.6 159.13M127.6 159.13L128.4 159.87M128.4 159.87L129.2 160.99M129.2 160.99L130 161.53M130 161.53L130.8 162.18M130.8 162.18L131.6 163.33M131.6 163.33L132.4 163.55M132.4 163.55L133.2 164.24M133.2 164.24L134 165.75M134 165.75L134.8 165.86M134.8 165.86L135.6 166.54M135.6 166.54L136.4 167.21M136.4 167.21L137.2 168.02M137.2 168.02L138 168.87M138 168.87L138.8 169.56M138.8 169.56L139.6 170.21M139.6 170.21L140.4 170.77M140.4 170.77L141.2 171.28M141.2 171.28L142 172.22M142 172.22L142.8 173.07M142.8 173.07L143.6 173.68M143.6 173.68L144.4 174.2M144.4 174.2L145.2 174.99M145.2 174.99L146 175.53M146 175.53L146.8 176.24M146.8 176.24L147.6 176.79M147.6 176.79L148.4 177.56M148.4 177.56L149.2 178.28M149.2 178.28L150 178.93M150 178.93L150.8 179.69M150.8 179.69L151.6 180.47M151.6 180.47L152.4 181.08M152.4 181.08L153.2 181.61M153.2 181.61L154 182.24M154 182.24L154.8 182.91M154.8 182.91L155.6 183.54M155.6 183.54L156.4 184.28M156.4 184.28L157.2 184.97M157.2 184.97L158 185.61M158 185.61L158.8 186.28M158.8 186.28L159.6 186.94M159.6 186.94L160.4 187.6M160.4 187.6L161.2 188.24M161.2 188.24L162 189.07M162 189.07L162.8 189.72M162.8 189.72L163.6 190.32M163.6 190.32L164.4 191.04M164.4 191.04L165.2 191.78M165.2 191.78L166 192.53M166 192.53L166.8 193.31M166.8 193.31L167.6 194.02M167.6 194.02L168.4 194.74M168.4 194.74L169.2 195.44M169.2 195.44L170 196.15M170 196.15L170.8 196.85M170.8 196.85L171.6 197.55M171.6 197.55L172.4 198.24M172.4 198.24L173.2 198.87M173.2 198.87L174 199.6M174 199.6L174.8 200.3M174.8 200.3L175.6 200.85M175.6 200.85L176.4 201.45M176.4 201.45L177.2 202.09M177.2 202.09L178 202.65M178 202.65L178.8 203.2M178.8 203.2L179.6 203.79M179.6 203.79L180.4 204.29M180.4 204.29L181.2 204.79M181.2 204.79L182 205.23M182 205.23L182.8 205.71M182.8 205.71L183.6 206.14M183.6 206.14L184.4 206.56M184.4 206.56L185.2 206.98M185.2 206.98L186 207.38M186 207.38L186.8 207.76M186.8 207.76L187.6 208.16M187.6 208.16L188.4 208.52M188.4 208.52L189.2 208.93M189.2 208.93L190 209.31M190 209.31L190.8 209.66M190.8 209.66L191.6 210.02M191.6 210.02L192.4 210.39M192.4 210.39L193.2 210.74M193.2 210.74L194 211.12M194 211.12L194.8 211.48M194.8 211.48L195.6 211.82M195.6 211.82L196.4 212.19M196.4 212.19L197.2 212.56M197.2 212.56L198 212.91M198 212.91L198.8 213.26M198.8 213.26L199.6 213.6M199.6 213.6L200.4 213.94M200.4 213.94L201.2 214.27M201.2 214.27L202 214.61M202 214.61L202.8 214.94M202.8 214.94L203.6 215.24M203.6 215.24L204.4 215.54M204.4 215.54L205.2 215.83M205.2 215.83L206 216.09M206 216.09L206.8 216.38M206.8 216.38L207.6 216.66M207.6 216.66L208.4 216.96M208.4 216.96L209.2 217.25M209.2 217.25L210 217.53M210 217.53L210.8 217.82M210.8 217.82L211.6 218.11M211.6 218.11L212.4 218.39M212.4 218.39L213.2 218.68M213.2 218.68L214 218.96M214 218.96L214.8 219.26M214.8 219.26L215.6 219.54M215.6 219.54L216.4 219.84M216.4 219.84L217.2 220.12M217.2 220.12L218 220.41M218 220.41L218.8 220.71M218.8 220.71L219.6 220.99M219.6 220.99L220.4 221.27M220.4 221.27L221.2 221.57M221.2 221.57L222 221.85M222 221.85L222.8 222.14M222.8 222.14L223.6 222.43M223.6 222.43L224.4 222.72M224.4 222.72L225.2 223.01M225.2 223.01L226 223.3M226 223.3L226.8 223.6M226.8 223.6L227.6 223.89M227.6 223.89L228.4 224.17M228.4 224.17L229.2 224.47M229.2 224.47L230 224.76M230 224.76L230.8 225.04M230.8 225.04L231.6 225.33M231.6 225.33L232.4 225.63M232.4 225.63L233.2 225.91M233.2 225.91L234 226.2M234 226.2L234.8 226.49M234.8 226.49L235.6 226.78M235.6 226.78L236.4 227.07M236.4 227.07L237.2 227.36M237.2 227.36L238 227.65M238 227.65L238.8 227.94M238.8 227.94L239.6 228.23M239.6 228.23L240.4 228.51M240.4 228.51L241.2 228.8M241.2 228.8L241.75 229" stroke="#ff8c00" stroke-width="1.5" stroke-linecap="round" fill="none"/><path d="M66.25 123L86.9 130.75M86.9 130.75L97.5 138.25M97.5 138.25L106.25 145.4M106.25 145.4L112.5 150.6M112.5 150.6L114 151.61" stroke="#006400" stroke-width="1.2" stroke-dasharray="3.2 1" fill="none"/><path d="M114 151.61L114.8 151.85M114.8 151.85L115.6 152.91M115.6 152.91L116.4 153.84M116.4 153.84L117.2 153.83M117.2 153.83L118 154.78M118 154.78L118.8 155.81M118.8 155.81L119.6 156.06M119.6 156.06L120.4 156.8M120.4 156.8L121.2 157.69M121.2 157.69L122 158.23M122 158.23L122.8 159.66M122.8 159.66L123.6 159.89M123.6 159.89L124.4 161.19M124.4 161.19L125.2 161.98M125.2 161.98L126 162.1M126 162.1L126.8 163.21M126.8 163.21L127.6 163.81M127.6 163.81L128.4 164.38M128.4 164.38L129.2 165.33M129.2 165.33L130 166.08M130 166.08L130.8 167.02M130.8 167.02L131.6 167.81M131.6 167.81L132.4 168.06M132.4 168.06L133.2 168.93M133.2 168.93L134 169.83M134 169.83L134.8 170.67M134.8 170.67L135.6 170.7M135.6 170.7L136.4 172.1M136.4 172.1L137.2 172.56M137.2 172.56L138 173.57M138 173.57L138.8 173.98M138.8 173.98L139.6 174.65M139.6 174.65L140.4 175.53M140.4 175.53L141.2 176.44M141.2 176.44L142 177.03M142 177.03L142.8 177.47M142.8 177.47L143.6 178.66M143.6 178.66L144.4 179.16M144.4 179.16L145.2 180.05M145.2 180.05L146 180.84M146 180.84L146.8 181.58M146.8 181.58L147.6 182.47M147.6 182.47L148.4 183.31M148.4 183.31L149.2 184.15M149.2 184.15L150 184.99M150 184.99L150.8 185.75M150.8 185.75L151.6 186.44M151.6 186.44L152.4 187.34M152.4 187.34L153.2 188.22M153.2 188.22L154 188.99M154 188.99L154.8 189.68M154.8 189.68L155.6 190.46M155.6 190.46L156.4 191.2M156.4 191.2L157.2 191.94M157.2 191.94L158 192.67M158 192.67L158.8 193.23M158.8 193.23L159.6 193.92M159.6 193.92L160.4 194.69M160.4 194.69L161.2 195.34M161.2 195.34L162 195.96M162 195.96L162.8 196.34M162.8 196.34L163.6 197.04M163.6 197.04L164.4 197.45M164.4 197.45L165.2 198.19M165.2 198.19L166 198.69M166 198.69L166.8 199.21M166.8 199.21L167.6 199.7M167.6 199.7L168.4 200.25M168.4 200.25L169.2 200.65M169.2 200.65L170 201.17M170 201.17L170.8 201.6M170.8 201.6L171.6 202.03M171.6 202.03L172.4 202.46M172.4 202.46L173.2 202.86M173.2 202.86L174 203.22M174 203.22L174.8 203.68M174.8 203.68L175.6 204.06M175.6 204.06L176.4 204.41M176.4 204.41L177.2 204.79M177.2 204.79L178 205.15M178 205.15L178.8 205.44M178.8 205.44L179.6 205.81M179.6 205.81L180.4 206.14M180.4 206.14L181.2 206.46M181.2 206.46L182 206.81M182 206.81L182.8 207.1M182.8 207.1L183.6 207.41M183.6 207.41L184.4 207.73M184.4 207.73L185.2 208.03M185.2 208.03L186 208.33M186 208.33L186.8 208.67M186.8 208.67L187.6 208.93M187.6 208.93L188.4 209.26M188.4 209.26L189.2 209.55M189.2 209.55L190 209.9M190 209.9L190.8 210.24M190.8 210.24L191.6 210.56M191.6 210.56L192.4 210.85M192.4 210.85L193.2 211.18M193.2 211.18L194 211.52M194 211.52L194.8 211.81M194.8 211.81L195.6 212.14M195.6 212.14L196.4 212.44M196.4 212.44L197.2 212.78M197.2 212.78L198 213.09M198 213.09L198.8 213.4M198.8 213.4L199.6 213.69M199.6 213.69L200.4 214.01M200.4 214.01L201.2 214.32M201.2 214.32L202 214.63M202 214.63L202.8 214.92M202.8 214.92L203.6 215.22M203.6 215.22L204.4 215.52M204.4 215.52L205.2 215.82M205.2 215.82L206 216.08M206 216.08L206.8 216.37M206.8 216.37L207.6 216.65M207.6 216.65L208.4 216.95M208.4 216.95L209.2 217.23M209.2 217.23L210 217.53M210 217.53L210.8 217.82M210.8 217.82L211.6 218.1M211.6 218.1L212.4 218.39M212.4 218.39L213.2 218.68M213.2 218.68L214 218.97M214 218.97L214.8 219.26M214.8 219.26L215.6 219.54M215.6 219.54L216.4 219.84M216.4 219.84L217.2 220.12M217.2 220.12L218 220.42M218 220.42L218.8 220.69M218.8 220.69L219.6 220.99M219.6 220.99L220.4 221.27M220.4 221.27L221.2 221.57M221.2 221.57L222 221.85M222 221.85L222.8 222.15M222.8 222.15L223.6 222.43M223.6 222.43L224.4 222.73M224.4 222.73L225.2 223.02M225.2 223.02L226 223.3M226 223.3L226.8 223.6M226.8 223.6L227.6 223.89M227.6 223.89L228.4 224.18M228.4 224.18L229.2 224.46M229.2 224.46L230 224.76M230 224.76L230.8 225.05M230.8 225.05L231.6 225.33M231.6 225.33L232.4 225.63M232.4 225.63L233.2 225.91M233.2 225.91L234 226.2M234 226.2L234.8 226.49M234.8 226.49L235.6 226.78M235.6 226.78L236.4 227.07M236.4 227.07L237.2 227.36M237.2 227.36L238 227.65M238 227.65L238.8 227.94M238.8 227.94L239.6 228.22M239.6 228.22L240.4 228.52M240.4 228.52L241.2 228.8M241.2 228.8L241.75 229" stroke="#006400" stroke-width="1.5" stroke-linecap="round" fill="none"/><path d="M66.25 119.5L86.9 132M86.9 132L95 139.5M95 139.5L103.75 147.6M103.75 147.6L106.25 149.6M106.25 149.6L112.5 155.6M112.5 155.6L114 156.58" stroke="#0000cd" stroke-width="1.2" stroke-dasharray="3.2 1" fill="none"/><path d="M114 156.58L114.8 157.7M114.8 157.7L115.6 158.6M115.6 158.6L116.4 158.45M116.4 158.45L117.2 159.32M117.2 159.32L118 160.01M118 160.01L118.8 161.15M118.8 161.15L119.6 161.74M119.6 161.74L120.4 161.74M120.4 161.74L121.2 162.73M121.2 162.73L122 162.9M122 162.9L122.8 163.81M122.8 163.81L123.6 164.87M123.6 164.87L124.4 165.8M124.4 165.8L125.2 166.65M125.2 166.65L126 167.04M126 167.04L126.8 167.53M126.8 167.53L127.6 168.8M127.6 168.8L128.4 169.43M128.4 169.43L129.2 170.35M129.2 170.35L130 171.04M130 171.04L130.8 171.91M130.8 171.91L131.6 172.63M131.6 172.63L132.4 173.4M132.4 173.4L133.2 173.85M133.2 173.85L134 174.88M134 174.88L134.8 175.3M134.8 175.3L135.6 176.14M135.6 176.14L136.4 177.18M136.4 177.18L137.2 177.62M137.2 177.62L138 178.08M138 178.08L138.8 179.23M138.8 179.23L139.6 179.86M139.6 179.86L140.4 180.59M140.4 180.59L141.2 181.16M141.2 181.16L142 181.9M142 181.9L142.8 182.54M142.8 182.54L143.6 183.2M143.6 183.2L144.4 184.21M144.4 184.21L145.2 184.69M145.2 184.69L146 185.4M146 185.4L146.8 186.13M146.8 186.13L147.6 187.1M147.6 187.1L148.4 187.7M148.4 187.7L149.2 188.27M149.2 188.27L150 189M150 189L150.8 189.74M150.8 189.74L151.6 190.46M151.6 190.46L152.4 190.92M152.4 190.92L153.2 191.82M153.2 191.82L154 192.39M154 192.39L154.8 193.01M154.8 193.01L155.6 193.67M155.6 193.67L156.4 194.37M156.4 194.37L157.2 195.04M157.2 195.04L158 195.52M158 195.52L158.8 196.13M158.8 196.13L159.6 196.61M159.6 196.61L160.4 197.24M160.4 197.24L161.2 197.8M161.2 197.8L162 198.2M162 198.2L162.8 198.76M162.8 198.76L163.6 199.33M163.6 199.33L164.4 199.69M164.4 199.69L165.2 200.23M165.2 200.23L166 200.75M166 200.75L166.8 201.09M166.8 201.09L167.6 201.59M167.6 201.59L168.4 202.02M168.4 202.02L169.2 202.46M169.2 202.46L170 202.76M170 202.76L170.8 203.23M170.8 203.23L171.6 203.57M171.6 203.57L172.4 203.95M172.4 203.95L173.2 204.29M173.2 204.29L174 204.6M174 204.6L174.8 204.93M174.8 204.93L175.6 205.19M175.6 205.19L176.4 205.51M176.4 205.51L177.2 205.82M177.2 205.82L178 206.14M178 206.14L178.8 206.46M178.8 206.46L179.6 206.67M179.6 206.67L180.4 206.99M180.4 206.99L181.2 207.25M181.2 207.25L182 207.53M182 207.53L182.8 207.87M182.8 207.87L183.6 208.11M183.6 208.11L184.4 208.4M184.4 208.4L185.2 208.66M185.2 208.66L186 208.88M186 208.88L186.8 209.13M186.8 209.13L187.6 209.47M187.6 209.47L188.4 209.69M188.4 209.69L189.2 209.95M189.2 209.95L190 210.24M190 210.24L190.8 210.5M190.8 210.5L191.6 210.75M191.6 210.75L192.4 211.03M192.4 211.03L193.2 211.31M193.2 211.31L194 211.59M194 211.59L194.8 211.89M194.8 211.89L195.6 212.17M195.6 212.17L196.4 212.47M196.4 212.47L197.2 212.79M197.2 212.79L198 213.09M198 213.09L198.8 213.41M198.8 213.41L199.6 213.7M199.6 213.7L200.4 214.02M200.4 214.02L201.2 214.31M201.2 214.31L202 214.64M202 214.64L202.8 214.91M202.8 214.91L203.6 215.22M203.6 215.22L204.4 215.51M204.4 215.51L205.2 215.8M205.2 215.8L206 216.1M206 216.1L206.8 216.37M206.8 216.37L207.6 216.66M207.6 216.66L208.4 216.94M208.4 216.94L209.2 217.25M209.2 217.25L210 217.53M210 217.53L210.8 217.81M210.8 217.81L211.6 218.1M211.6 218.1L212.4 218.4M212.4 218.4L213.2 218.69M213.2 218.69L214 218.98M214 218.98L214.8 219.25M214.8 219.25L215.6 219.54M215.6 219.54L216.4 219.84M216.4 219.84L217.2 220.12M217.2 220.12L218 220.41M218 220.41L218.8 220.7M218.8 220.7L219.6 220.98M219.6 220.98L220.4 221.28M220.4 221.28L221.2 221.57M221.2 221.57L222 221.86M222 221.86L222.8 222.15M222.8 222.15L223.6 222.44M223.6 222.44L224.4 222.73M224.4 222.73L225.2 223.01M225.2 223.01L226 223.3M226 223.3L226.8 223.59M226.8 223.59L227.6 223.89M227.6 223.89L228.4 224.17M228.4 224.17L229.2 224.46M229.2 224.46L230 224.75M230 224.75L230.8 225.05M230.8 225.05L231.6 225.34M231.6 225.34L232.4 225.63M232.4 225.63L233.2 225.91M233.2 225.91L234 226.2M234 226.2L234.8 226.49M234.8 226.49L235.6 226.78M235.6 226.78L236.4 227.07M236.4 227.07L237.2 227.36M237.2 227.36L238 227.65M238 227.65L238.8 227.93M238.8 227.93L239.6 228.22M239.6 228.22L240.4 228.52M240.4 228.52L241.2 228.8M241.2 228.8L241.75 229" stroke="#0000cd" stroke-width="1.5" stroke-linecap="round" fill="none"/></g>
<rect x="60.5" y="114.4" width="186.8" height="117" fill="none" stroke="#000" stroke-width="1.25"/>
<text x="47.7" y="29.6" text-anchor="end" font-family='"Liberation Sans", sans-serif' font-size="13" fill="#000">10<tspan font-size="10.0" dy="-5.3">5</tspan></text><text x="47.7" y="60.01" text-anchor="end" font-family='"Liberation Sans", sans-serif' font-size="13" fill="#000">10<tspan font-size="10.0" dy="-5.3">4</tspan></text><text x="47.7" y="90.42" text-anchor="end" font-family='"Liberation Sans", sans-serif' font-size="13" fill="#000">10<tspan font-size="10.0" dy="-5.3">3</tspan></text><text x="47.7" y="120.83" text-anchor="end" font-family='"Liberation Sans", sans-serif' font-size="13" fill="#000">10<tspan font-size="10.0" dy="-5.3">2</tspan></text><text x="47.7" y="151.24" text-anchor="end" font-family='"Liberation Sans", sans-serif' font-size="13" fill="#000">10<tspan font-size="10.0" dy="-5.3">1</tspan></text><text x="47.7" y="181.65" text-anchor="end" font-family='"Liberation Sans", sans-serif' font-size="13" fill="#000">10<tspan font-size="10.0" dy="-5.3">0</tspan></text><text x="47.7" y="212.06" text-anchor="end" font-family='"Liberation Sans", sans-serif' font-size="13" fill="#000">10<tspan font-size="10.0" dy="-5.3">-1</tspan></text><text x="47.7" y="242.47" text-anchor="end" font-family='"Liberation Sans", sans-serif' font-size="13" fill="#000">10<tspan font-size="10.0" dy="-5.3">-2</tspan></text><text x="55.3" y="254.5" text-anchor="middle" font-family='"Liberation Sans", sans-serif' font-size="12.5" fill="#000">0.01</text><text x="202.04" y="254.5" text-anchor="middle" font-family='"Liberation Sans", sans-serif' font-size="12.5" fill="#000">0.1</text><text x="348.78" y="254.5" text-anchor="middle" font-family='"Liberation Sans", sans-serif' font-size="12.5" fill="#000">1</text><text x="335.6" y="31.5" text-anchor="end" xml:space="preserve" word-spacing="0" font-family='"Liberation Sans", sans-serif' font-size="13" fill="#000">t =   300</text><path d="M342.8 27H376.4" stroke="#ff0000" stroke-width="1" stroke-dasharray="2.1 1.3" fill="none"/><circle cx="359.7" cy="27" r="1.45" fill="#ff0000"/><text x="335.6" y="48" text-anchor="end" xml:space="preserve" word-spacing="0" font-family='"Liberation Sans", sans-serif' font-size="13" fill="#000">t = 1000</text><path d="M342.8 43.5H376.4" stroke="#ff8c00" stroke-width="1" stroke-dasharray="2.1 1.3" fill="none"/><circle cx="359.7" cy="43.5" r="1.5" fill="#ff8c00"/><text x="335.6" y="64.5" text-anchor="end" xml:space="preserve" word-spacing="0" font-family='"Liberation Sans", sans-serif' font-size="13" fill="#000">t = 3000</text><path d="M342.8 60H376.4" stroke="#006400" stroke-width="1" stroke-dasharray="2.1 1.3" fill="none"/><circle cx="359.7" cy="60" r="1.2" fill="#006400"/><text x="335.6" y="81" text-anchor="end" xml:space="preserve" word-spacing="0" font-family='"Liberation Sans", sans-serif' font-size="13" fill="#000">t = 7000</text><path d="M342.8 76.5H376.4" stroke="#0000cd" stroke-width="1" stroke-dasharray="2.1 1.3" fill="none"/><path d="M358.05 75.34L361.35 75.34L359.7 78.31Z" fill="#0000cd"/><text x="98.4" y="89.3" font-weight="bold" font-family='"Liberation Sans", sans-serif' font-size="12.5" fill="#000">Nonrelativistic</text><text x="166.4" y="148.7" font-family='"Liberation Sans", sans-serif' font-size="12.5" fill="#000">Original</text><text x="166.4" y="160.4" letter-spacing="0.15" font-family='"Liberation Sans", sans-serif' font-size="12.5" fill="#000">distribution</text><text x="144.7" y="275" font-weight="bold" word-spacing="0.7" letter-spacing="0.03" font-family='"Liberation Sans", sans-serif' font-size="12.5" fill="#000">Rescaled momentum:</text><text x="283.1" y="275" font-family='"Liberation Sans", sans-serif' font-size="12.5" fill="#000">t</text><text x="287" y="268.8" font-family='"Liberation Sans", sans-serif' font-size="10.0" fill="#000">&#946;</text><text x="295.2" y="275" font-family='"Liberation Sans", sans-serif' font-size="12.5" fill="#000">p</text><g transform="translate(15.5 206.6) rotate(-90)"><text x="0" y="0" font-weight="bold" letter-spacing="0.1" font-family='"Liberation Sans", sans-serif' font-size="12.5" fill="#000">Rescaled distribution:</text><text x="140" y="0" font-family='"Liberation Sans", sans-serif' font-size="12.5" fill="#000">t</text><text x="144.1" y="-6.6" font-family='"Liberation Sans", sans-serif' font-size="10" fill="#000">-</text><text x="147.6" y="-5.5" font-family='"Liberation Sans", sans-serif' font-size="10.5" fill="#000">&#945;</text><text x="157.2" y="0" font-family='"Liberation Sans", sans-serif' font-size="12.5" fill="#000">f</text></g>
</svg>
</body></html>
